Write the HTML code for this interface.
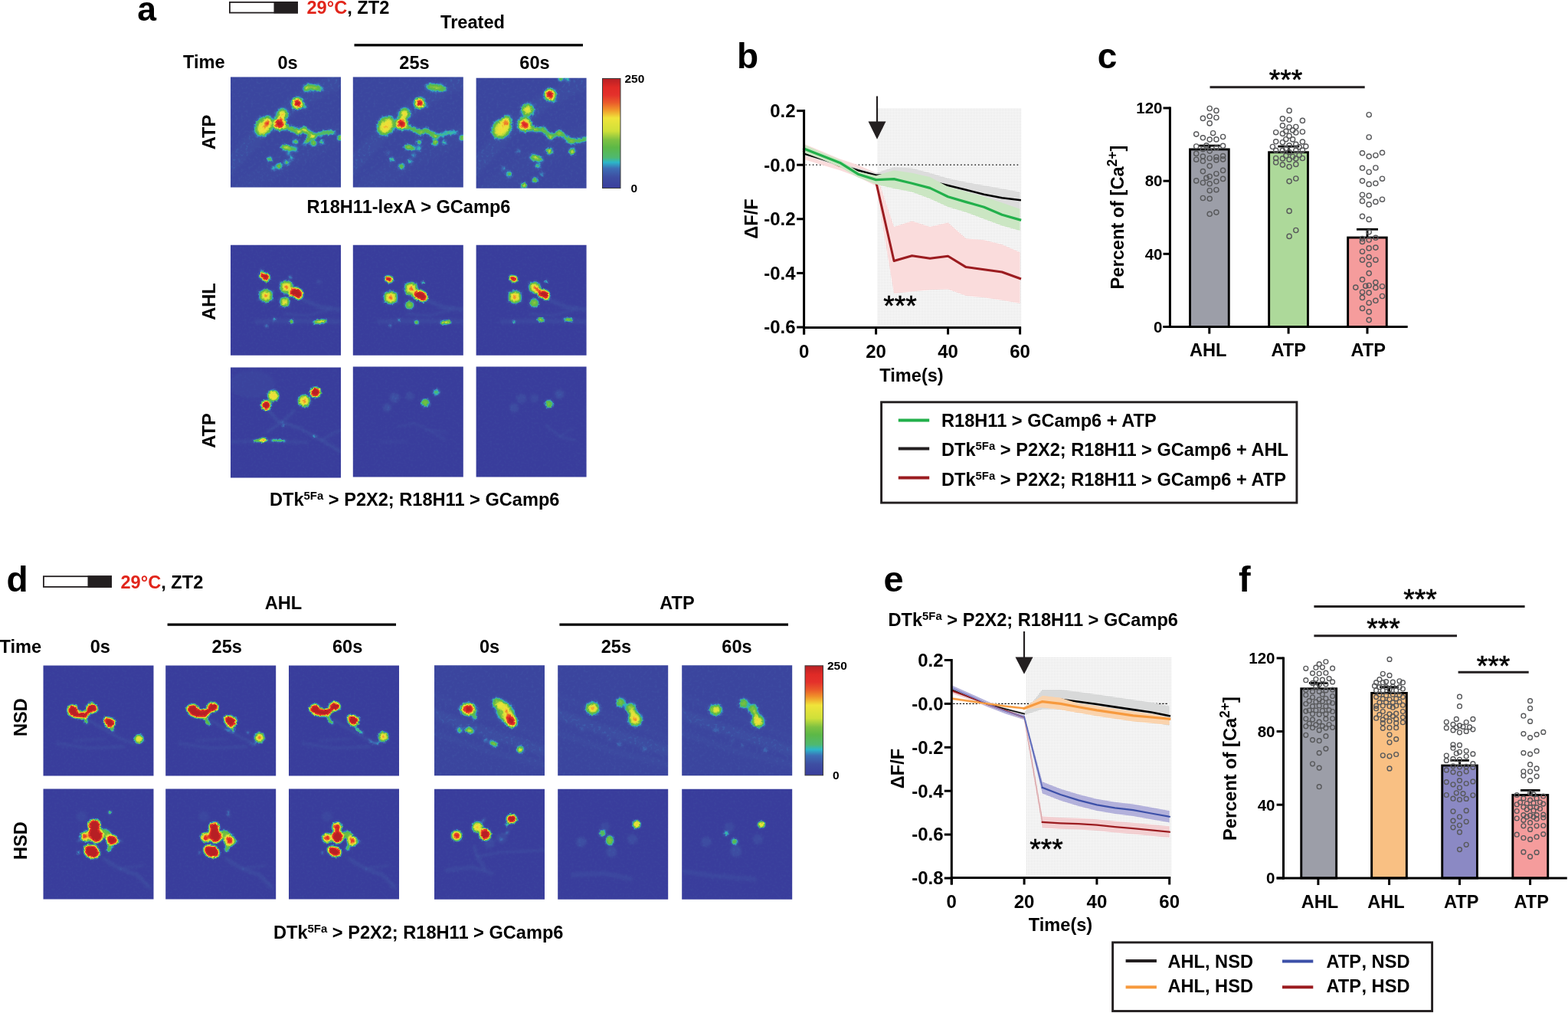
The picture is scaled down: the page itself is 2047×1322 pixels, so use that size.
<!DOCTYPE html>
<html lang="en"><head><meta charset="utf-8"><title>Figure</title>
<style>
html,body{margin:0;padding:0;background:#fff;}
svg{display:block;font-family:"Liberation Sans", Arial, sans-serif;font-weight:bold;}
</style></head><body>
<svg width="2047" height="1322" viewBox="0 0 2047 1322">
<defs>
<filter id="jet" x="-12" y="-12" width="168" height="168" filterUnits="userSpaceOnUse" color-interpolation-filters="sRGB">
<feTurbulence type="fractalNoise" baseFrequency="0.33" numOctaves="2" seed="7" result="n"/>
<feGaussianBlur in="SourceGraphic" stdDeviation="1.4" result="b"/>
<feDisplacementMap in="b" in2="n" scale="3.2" xChannelSelector="R" yChannelSelector="G" result="d"/>
<feGaussianBlur in="d" stdDeviation="0.45" result="d2"/>
<feColorMatrix in="n" type="matrix" values="0 0 0.10 0 -0.05  0 0 0.10 0 -0.05  0 0 0.10 0 -0.05  0 0 0 0 1" result="g"/>
<feComposite in="d2" in2="g" operator="arithmetic" k1="0" k2="1" k3="1" k4="0" result="s"/>
<feComponentTransfer in="s">
<feFuncR type="table" tableValues="0.227 0.231 0.235 0.239 0.243 0.242 0.241 0.239 0.215 0.185 0.218 0.295 0.321 0.335 0.349 0.370 0.416 0.462 0.530 0.631 0.731 0.817 0.844 0.871 0.898 0.925 0.941 0.941 0.941 0.939 0.929 0.920 0.911 0.903 0.894 0.889 0.883 0.868 0.818 0.768 0.718"/>
<feFuncG type="table" tableValues="0.243 0.259 0.275 0.290 0.306 0.345 0.384 0.424 0.535 0.666 0.720 0.725 0.725 0.724 0.722 0.724 0.737 0.749 0.772 0.810 0.848 0.879 0.882 0.886 0.889 0.892 0.853 0.750 0.647 0.547 0.459 0.371 0.307 0.250 0.192 0.182 0.173 0.162 0.150 0.138 0.125"/>
<feFuncB type="table" tableValues="0.612 0.618 0.624 0.629 0.635 0.659 0.682 0.705 0.738 0.774 0.672 0.478 0.403 0.359 0.314 0.277 0.270 0.263 0.255 0.245 0.235 0.227 0.227 0.227 0.227 0.227 0.220 0.200 0.180 0.165 0.165 0.165 0.166 0.167 0.169 0.162 0.155 0.149 0.148 0.146 0.145"/>
</feComponentTransfer>
</filter>
<filter id="jets" x="-12" y="-12" width="168" height="168" filterUnits="userSpaceOnUse" color-interpolation-filters="sRGB">
<feTurbulence type="fractalNoise" baseFrequency="0.30" numOctaves="2" seed="11" result="n"/>
<feGaussianBlur in="SourceGraphic" stdDeviation="1.9" result="b"/>
<feDisplacementMap in="b" in2="n" scale="3.6" xChannelSelector="R" yChannelSelector="G" result="d"/>
<feGaussianBlur in="d" stdDeviation="0.45" result="d2"/>
<feColorMatrix in="n" type="matrix" values="0 0 0.16 0 -0.08  0 0 0.16 0 -0.08  0 0 0.16 0 -0.08  0 0 0 0 1" result="g"/>
<feComposite in="d2" in2="g" operator="arithmetic" k1="0" k2="1" k3="1" k4="0" result="s"/>
<feComponentTransfer in="s">
<feFuncR type="table" tableValues="0.227 0.231 0.235 0.239 0.243 0.242 0.241 0.239 0.215 0.185 0.218 0.295 0.321 0.335 0.349 0.370 0.416 0.462 0.530 0.631 0.731 0.817 0.844 0.871 0.898 0.925 0.941 0.941 0.941 0.939 0.929 0.920 0.911 0.903 0.894 0.889 0.883 0.868 0.818 0.768 0.718"/>
<feFuncG type="table" tableValues="0.243 0.259 0.275 0.290 0.306 0.345 0.384 0.424 0.535 0.666 0.720 0.725 0.725 0.724 0.722 0.724 0.737 0.749 0.772 0.810 0.848 0.879 0.882 0.886 0.889 0.892 0.853 0.750 0.647 0.547 0.459 0.371 0.307 0.250 0.192 0.182 0.173 0.162 0.150 0.138 0.125"/>
<feFuncB type="table" tableValues="0.612 0.618 0.624 0.629 0.635 0.659 0.682 0.705 0.738 0.774 0.672 0.478 0.403 0.359 0.314 0.277 0.270 0.263 0.255 0.245 0.235 0.227 0.227 0.227 0.227 0.227 0.220 0.200 0.180 0.165 0.165 0.165 0.166 0.167 0.169 0.162 0.155 0.149 0.148 0.146 0.145"/>
</feComponentTransfer>
</filter>
<radialGradient id="bg"><stop offset="0" stop-color="#fff" stop-opacity="1"/><stop offset="0.35" stop-color="#fff" stop-opacity="0.85"/><stop offset="1" stop-color="#fff" stop-opacity="0"/></radialGradient>
<radialGradient id="bh"><stop offset="0" stop-color="#fff" stop-opacity="1"/><stop offset="0.6" stop-color="#fff" stop-opacity="1"/><stop offset="1" stop-color="#fff" stop-opacity="0"/></radialGradient>
<linearGradient id="cbar" x1="0" y1="1" x2="0" y2="0">

<stop offset="0.0" stop-color="#3a3e9c"/>
<stop offset="0.1" stop-color="#3e4ea2"/>
<stop offset="0.18" stop-color="#3d6eb5"/>
<stop offset="0.235" stop-color="#2cb7c9"/>
<stop offset="0.28" stop-color="#4fb970"/>
<stop offset="0.37" stop-color="#5cb847"/>
<stop offset="0.44" stop-color="#7dc142"/>
<stop offset="0.52" stop-color="#cfe03a"/>
<stop offset="0.64" stop-color="#f0e43a"/>
<stop offset="0.72" stop-color="#f0902a"/>
<stop offset="0.78" stop-color="#ea5a2a"/>
<stop offset="0.85" stop-color="#e4312b"/>
<stop offset="0.92" stop-color="#e02a26"/>
<stop offset="1.0" stop-color="#b72025"/>
</linearGradient>
<pattern id="dots" width="2" height="2" patternUnits="userSpaceOnUse"><rect width="2" height="2" fill="#fbfbfb"/><rect x="0" y="0" width="1" height="1" fill="#d6d6d6"/></pattern>
</defs>
<rect width="2047" height="1322" fill="#fff"/>

<text x="179.2" y="27" font-size="44.5" text-anchor="start" fill="#000">a</text>
<rect x="299.9" y="2.9" width="88.2" height="13.7" fill="#fff" stroke="#231f20" stroke-width="1.8"/>
<rect x="357.5" y="2" width="31.5" height="15.5" fill="#231f20" stroke="none" stroke-width="0"/>
<text x="400.5" y="18" font-size="23.6" text-anchor="start" fill="#000"><tspan fill="#e1251b">29°C</tspan>, ZT2</text>
<text x="617" y="36.5" font-size="23.6" text-anchor="middle" fill="#000">Treated</text>
<line x1="462.5" y1="58.8" x2="761" y2="58.8" stroke="#000" stroke-width="3.2"/>
<text x="239" y="88.8" font-size="23.6" text-anchor="start" fill="#000">Time</text>
<text x="375.5" y="90" font-size="23.6" text-anchor="middle" fill="#000">0s</text>
<text x="541" y="90" font-size="23.6" text-anchor="middle" fill="#000">25s</text>
<text x="698" y="90" font-size="23.6" text-anchor="middle" fill="#000">60s</text>
<svg x="301" y="100.5" width="144" height="144" viewBox="0 0 144 144" overflow="hidden"><g filter="url(#jets)"><rect x="-12" y="-12" width="168" height="168" fill="rgb(13,13,13)"/><g fill="#fff" stroke="#fff" stroke-linecap="round" stroke-linejoin="round"><polyline points="-10,125 40,72 90,30 150,0" fill="none" stroke-width="20" opacity="0.04"/><polyline points="20,144 70,110 150,70" fill="none" stroke-width="26" opacity="0.02"/><ellipse cx="108" cy="13.6" rx="12" ry="3.4" stroke="none" opacity="0.45" transform="rotate(8 108 13.6)"/><circle cx="98.5" cy="15.5" r="2.8" stroke="none" opacity="0.576"/><ellipse cx="87.3" cy="34.3" rx="7.0" ry="7.4" stroke="none" opacity="0.4" transform="rotate(30 87.3 34.3)"/><ellipse cx="87.3" cy="34.3" rx="5.4" ry="5.8" stroke="none" opacity="1.0" transform="rotate(30 87.3 34.3)"/><polyline points="91,37 99,40" fill="none" stroke-width="2.0" opacity="0.53"/><circle cx="67.6" cy="48.7" r="7.2" stroke="none" opacity="0.4"/><circle cx="67.6" cy="48.7" r="3.6" stroke="none" opacity="0.367"/><circle cx="67.6" cy="48.7" r="1.9" stroke="none" opacity="0.607"/><ellipse cx="63.8" cy="60.8" rx="8.4" ry="8.6" stroke="none" opacity="0.4"/><ellipse cx="63.8" cy="60.8" rx="6.2" ry="6.4" stroke="none" opacity="1.0"/><ellipse cx="43.5" cy="64" rx="10.5" ry="14" stroke="none" opacity="0.4" transform="rotate(35 43.5 64)"/><ellipse cx="43.5" cy="66" rx="5.8" ry="8.6" stroke="none" opacity="0.37" transform="rotate(35 43.5 66)"/><ellipse cx="48.5" cy="59.5" rx="2.8" ry="4.4" stroke="none" opacity="0.85" transform="rotate(25 48.5 59.5)"/><polyline points="66,64 78,67 88.8,71.4 96.4,68.4 107,76.7" fill="none" stroke-width="5.3" opacity="0.488"/><polyline points="107,76.7 115,75 123.6,72.2 135,72.2" fill="none" stroke-width="2.7" opacity="0.583"/><circle cx="88.8" cy="72.5" r="3.0" stroke="none" opacity="0.384"/><circle cx="97" cy="69" r="2.8" stroke="none" opacity="0.32"/><circle cx="108" cy="77.5" r="3.0" stroke="none" opacity="0.384"/><polyline points="107,77 100,83 96,88" fill="none" stroke-width="2.5" opacity="0.477"/><circle cx="143" cy="79.4" r="2.4" stroke="none" opacity="0.896"/><ellipse cx="71.4" cy="91.8" rx="5" ry="3.0" stroke="none" opacity="0.62" transform="rotate(15 71.4 91.8)"/><circle cx="78" cy="93" r="2.6" stroke="none" opacity="0.64"/><circle cx="85" cy="84.3" r="2.4" stroke="none" opacity="0.704"/><circle cx="108.5" cy="86.5" r="2.7" stroke="none" opacity="0.768"/><circle cx="119" cy="85" r="2.0" stroke="none" opacity="0.704"/><circle cx="51" cy="107.3" r="2.2" stroke="none" opacity="0.768"/><circle cx="63.5" cy="116.3" r="2.6" stroke="none" opacity="0.794"/><circle cx="56" cy="119" r="1.8" stroke="none" opacity="0.704"/><circle cx="73.2" cy="111.8" r="2.2" stroke="none" opacity="0.704"/><circle cx="79.7" cy="106.2" r="1.8" stroke="none" opacity="0.64"/><circle cx="84.3" cy="94.1" r="2.2" stroke="none" opacity="0.64"/><circle cx="101" cy="82" r="2.2" stroke="none" opacity="0.64"/><circle cx="76" cy="100" r="1.7" stroke="none" opacity="0.576"/></g></g></svg>
<svg x="460.8" y="100.5" width="144" height="144" viewBox="0 0 144 144" overflow="hidden"><g filter="url(#jets)"><rect x="-12" y="-12" width="168" height="168" fill="rgb(13,13,13)"/><g fill="#fff" stroke="#fff" stroke-linecap="round" stroke-linejoin="round"><polyline points="-10,125 40,72 90,30 150,0" fill="none" stroke-width="20" opacity="0.04"/><polyline points="20,144 70,110 150,70" fill="none" stroke-width="26" opacity="0.02"/><ellipse cx="108.2" cy="13.6" rx="13.5" ry="4.2" stroke="none" opacity="0.42" transform="rotate(8 108.2 13.6)"/><ellipse cx="87" cy="34" rx="6.4" ry="7.0" stroke="none" opacity="0.4" transform="rotate(30 87 34)"/><ellipse cx="87" cy="34" rx="4.8" ry="5.4" stroke="none" opacity="1.0" transform="rotate(30 87 34)"/><polyline points="91,37 98,39" fill="none" stroke-width="1.8" opacity="0.424"/><circle cx="67.3" cy="48" r="7.2" stroke="none" opacity="0.4"/><circle cx="67.3" cy="48" r="3.4" stroke="none" opacity="0.426"/><circle cx="67.3" cy="48" r="1.6" stroke="none" opacity="0.384"/><ellipse cx="63.2" cy="60.8" rx="7.8" ry="8.0" stroke="none" opacity="0.4"/><ellipse cx="63.2" cy="60.8" rx="5.6" ry="5.8" stroke="none" opacity="1.0"/><ellipse cx="43" cy="63.5" rx="10.5" ry="13" stroke="none" opacity="0.4" transform="rotate(35 43 63.5)"/><ellipse cx="43.5" cy="64" rx="6" ry="8.5" stroke="none" opacity="0.33" transform="rotate(35 43.5 64)"/><circle cx="47.7" cy="58.5" r="2.0" stroke="none" opacity="0.384"/><circle cx="40.8" cy="67" r="2.2" stroke="none" opacity="0.256"/><polyline points="66,64 78,67.5 88,72.5 95.5,69.5 107.5,76.7" fill="none" stroke-width="4.7" opacity="0.466"/><polyline points="107.5,76.7 115,76 122.6,73 135,72" fill="none" stroke-width="2.5" opacity="0.477"/><circle cx="88" cy="73" r="2.8" stroke="none" opacity="0.256"/><circle cx="108" cy="77.5" r="2.6" stroke="none" opacity="0.32"/><circle cx="142.5" cy="79.4" r="2.4" stroke="none" opacity="0.896"/><ellipse cx="71.9" cy="91.4" rx="4.4" ry="2.8" stroke="none" opacity="0.6" transform="rotate(15 71.9 91.4)"/><circle cx="78.5" cy="92.5" r="2.4" stroke="none" opacity="0.576"/><circle cx="86.2" cy="85" r="2.4" stroke="none" opacity="0.64"/><circle cx="107.4" cy="85.8" r="2.7" stroke="none" opacity="0.768"/><circle cx="119.2" cy="85.5" r="1.9" stroke="none" opacity="0.64"/><circle cx="50.7" cy="107.7" r="2.0" stroke="none" opacity="0.704"/><circle cx="63.5" cy="116.8" r="2.5" stroke="none" opacity="0.768"/><circle cx="74.1" cy="110" r="2.0" stroke="none" opacity="0.64"/><circle cx="86.2" cy="93.3" r="2.0" stroke="none" opacity="0.64"/><circle cx="79" cy="102" r="1.7" stroke="none" opacity="0.576"/><circle cx="46" cy="99" r="1.5" stroke="none" opacity="0.512"/></g></g></svg>
<svg x="621.6" y="101.7" width="144" height="144" viewBox="0 0 144 144" overflow="hidden"><g filter="url(#jets)"><rect x="-12" y="-12" width="168" height="168" fill="rgb(13,13,13)"/><g fill="#fff" stroke="#fff" stroke-linecap="round" stroke-linejoin="round"><polyline points="-10,125 40,72 90,30 150,0" fill="none" stroke-width="20" opacity="0.04"/><polyline points="20,144 70,110 150,70" fill="none" stroke-width="26" opacity="0.02"/><circle cx="110.5" cy="0.8" r="2.4" stroke="none" opacity="0.768"/><circle cx="119" cy="1.6" r="2.0" stroke="none" opacity="0.64"/><ellipse cx="96.3" cy="21.5" rx="7.2" ry="7.4" stroke="none" opacity="0.4" transform="rotate(20 96.3 21.5)"/><ellipse cx="96.3" cy="21.5" rx="5.4" ry="5.6" stroke="none" opacity="1.0" transform="rotate(20 96.3 21.5)"/><ellipse cx="99.5" cy="27" rx="4.5" ry="3" stroke="none" opacity="0.4" transform="rotate(40 99.5 27)"/><circle cx="66.9" cy="41.5" r="8.2" stroke="none" opacity="0.4"/><circle cx="66.9" cy="41.5" r="3.6" stroke="none" opacity="0.333"/><ellipse cx="63.3" cy="60.9" rx="9.0" ry="9.5" stroke="none" opacity="0.4"/><ellipse cx="63.3" cy="60.9" rx="6.6" ry="6.9" stroke="none" opacity="0.367"/><ellipse cx="63.3" cy="60.9" rx="4.6" ry="4.8" stroke="none" opacity="0.632"/><ellipse cx="63.3" cy="60.9" rx="3.2" ry="3.4" stroke="none" opacity="0.914"/><polyline points="68,65 78,67" fill="none" stroke-width="5.0" opacity="0.424"/><ellipse cx="33" cy="66" rx="11.5" ry="14" stroke="none" opacity="0.4" transform="rotate(40 33 66)"/><ellipse cx="40" cy="55.5" rx="5.5" ry="7" stroke="none" opacity="0.4" transform="rotate(20 40 55.5)"/><ellipse cx="33.5" cy="66" rx="7" ry="9.5" stroke="none" opacity="0.33" transform="rotate(40 33.5 66)"/><ellipse cx="40" cy="57" rx="2.5" ry="4" stroke="none" opacity="0.33" transform="rotate(20 40 57)"/><polyline points="76,67 88,67.8 96.6,76.8 108.7,71.4 123.2,82.3 134,82.3 143.8,79.3" fill="none" stroke-width="3.5" opacity="0.477"/><circle cx="97" cy="77.5" r="3.4" stroke="none" opacity="0.358"/><circle cx="108.5" cy="71.8" r="3.2" stroke="none" opacity="0.307"/><circle cx="124" cy="82.5" r="3.2" stroke="none" opacity="0.307"/><circle cx="88" cy="67" r="3.0" stroke="none" opacity="0.307"/><circle cx="95.6" cy="95.6" r="3.0" stroke="none" opacity="0.768"/><circle cx="125.4" cy="96" r="3.0" stroke="none" opacity="0.768"/><ellipse cx="76" cy="104" rx="5.5" ry="3.0" stroke="none" opacity="0.6" transform="rotate(15 76 104)"/><circle cx="83.3" cy="105.9" r="2.6" stroke="none" opacity="0.64"/><circle cx="80.6" cy="114.6" r="2.2" stroke="none" opacity="0.64"/><circle cx="43" cy="125.8" r="2.4" stroke="none" opacity="0.768"/><circle cx="35.8" cy="118" r="1.7" stroke="none" opacity="0.576"/><circle cx="76.6" cy="133" r="2.5" stroke="none" opacity="0.768"/><circle cx="62.4" cy="140.4" r="3.0" stroke="none" opacity="0.794"/><circle cx="85.7" cy="125.2" r="1.8" stroke="none" opacity="0.576"/><circle cx="54.8" cy="95.6" r="1.7" stroke="none" opacity="0.576"/></g></g></svg>
<rect x="786.5" y="102.5" width="23.5" height="143" fill="url(#cbar)" stroke="#3a3a3a" stroke-width="1"/>
<text x="815.5" y="107.5" font-size="15.5" text-anchor="start" fill="#000">250</text>
<text x="823.5" y="250.5" font-size="15.5" text-anchor="start" fill="#000">0</text>
<text x="281" y="172.5" font-size="23.6" text-anchor="middle" fill="#000" transform="rotate(-90 281 172.5)">ATP</text>
<text x="533.5" y="277.5" font-size="23.6" text-anchor="middle" fill="#000">R18H11-lexA &gt; GCamp6</text>
<svg x="301" y="319.8" width="144" height="144" viewBox="0 0 144 144" overflow="hidden"><g filter="url(#jet)"><rect x="-12" y="-12" width="168" height="168" fill="rgb(0,0,0)"/><g fill="#fff" stroke="#fff" stroke-linecap="round" stroke-linejoin="round"><polyline points="96,72 118,81 142,84" fill="none" stroke-width="5" opacity="0.07"/><polyline points="34,100 80,99 142,100" fill="none" stroke-width="6" opacity="0.06"/><polyline points="70,90 100,92 130,84" fill="none" stroke-width="3" opacity="0.06"/><polygon points="40.6,37.4 48.5,38.5 50,42.7 46.8,46.4 41.6,43.2 38.8,40.4" stroke-width="3.6" opacity="0.4"/><polygon points="40.6,37.4 48.5,38.5 50,42.7 46.8,46.4 41.6,43.2 38.8,40.4" stroke-width="1.6" opacity="1.0"/><polyline points="40,32 41.5,38" fill="none" stroke-width="1.6" opacity="0.55"/><circle cx="72.9" cy="54.8" r="9.0" stroke="none" opacity="0.4"/><circle cx="72.9" cy="54.8" r="4.6" stroke="none" opacity="0.367"/><circle cx="72.9" cy="54.8" r="1.8" stroke="none" opacity="0.421"/><polyline points="64,47 82,62" fill="none" stroke-width="1.2" opacity="0.3"/><polyline points="66,60 80,49" fill="none" stroke-width="1.2" opacity="0.3"/><polygon points="79.7,57.8 85.8,56.6 91.1,59.3 93.3,63.8 91.8,68.4 88,69.9 85.8,67.6 82,66.1 77.5,64.6" stroke-width="3.8" opacity="0.4"/><polygon points="79.7,57.8 85.8,56.6 91.1,59.3 93.3,63.8 91.8,68.4 88,69.9 85.8,67.6 82,66.1 77.5,64.6" stroke-width="1.4" opacity="1.0"/><circle cx="46.1" cy="66.1" r="8.8" stroke="none" opacity="0.4"/><circle cx="46.1" cy="66.1" r="4.2" stroke="none" opacity="0.367"/><polyline points="36,60 56,72" fill="none" stroke-width="1.4" opacity="0.3"/><polyline points="36,72 56,60" fill="none" stroke-width="1.4" opacity="0.3"/><polyline points="46.1,56 46.1,76.5" fill="none" stroke-width="1.4" opacity="0.3"/><circle cx="70.7" cy="74.4" r="6.6" stroke="none" opacity="0.4"/><circle cx="70.7" cy="74.4" r="2.6" stroke="none" opacity="0.3"/><polyline points="64,68 77,81" fill="none" stroke-width="1.2" opacity="0.3"/><polyline points="64,81 77,68" fill="none" stroke-width="1.2" opacity="0.3"/><ellipse cx="117.5" cy="99.8" rx="8" ry="2.4" stroke="none" opacity="0.55" transform="rotate(-8 117.5 99.8)"/><circle cx="120" cy="100.5" r="2.2" stroke="none" opacity="0.3"/><circle cx="110" cy="101" r="2.2" stroke="none" opacity="0.4"/><circle cx="79.3" cy="100.2" r="2.4" stroke="none" opacity="0.55"/><circle cx="57.3" cy="96.8" r="1.7" stroke="none" opacity="0.5"/><circle cx="46.7" cy="105.4" r="1.5" stroke="none" opacity="0.5"/><circle cx="77.9" cy="42.2" r="1.6" stroke="none" opacity="0.5"/><circle cx="115.3" cy="47.7" r="2.5" stroke="none" opacity="0.12"/></g></g></svg>
<svg x="460.8" y="319.8" width="144" height="144" viewBox="0 0 144 144" overflow="hidden"><g filter="url(#jet)"><rect x="-12" y="-12" width="168" height="168" fill="rgb(0,0,0)"/><g fill="#fff" stroke="#fff" stroke-linecap="round" stroke-linejoin="round"><polyline points="96,72 118,81 142,84" fill="none" stroke-width="5" opacity="0.07"/><polyline points="34,100 80,99 142,100" fill="none" stroke-width="6" opacity="0.06"/><polyline points="70,90 100,92 130,84" fill="none" stroke-width="3" opacity="0.06"/><polygon points="43.6,41.6 49.6,42.2 51,46 48,48 44,46.2 42.6,43.8" stroke-width="3.2" opacity="0.4"/><polygon points="43.6,41.6 49.6,42.2 51,46 48,48 44,46.2 42.6,43.8" stroke-width="1.2" opacity="1.0"/><circle cx="75.9" cy="57" r="9.0" stroke="none" opacity="0.4"/><circle cx="75.9" cy="57" r="5.0" stroke="none" opacity="0.367"/><circle cx="75.9" cy="57" r="2.6" stroke="none" opacity="0.316"/><polyline points="67,49 85,65" fill="none" stroke-width="1.2" opacity="0.3"/><polyline points="68,64 84,50" fill="none" stroke-width="1.2" opacity="0.3"/><polygon points="81.7,61.6 87.7,60.1 93.8,63.1 96.1,67.6 93.8,72.2 89.3,72.2 86.2,69.6 81.7,69.1 79.9,66.1" stroke-width="3.8" opacity="0.4"/><polygon points="81.7,61.6 87.7,60.1 93.8,63.1 96.1,67.6 93.8,72.2 89.3,72.2 86.2,69.6 81.7,69.1 79.9,66.1" stroke-width="1.4" opacity="1.0"/><circle cx="49.2" cy="68.4" r="9.0" stroke="none" opacity="0.4"/><circle cx="49.2" cy="68.4" r="5.2" stroke="none" opacity="0.367"/><circle cx="49.2" cy="68.4" r="2.2" stroke="none" opacity="0.263"/><polyline points="39,62 59,75" fill="none" stroke-width="1.4" opacity="0.3"/><polyline points="39,75 59,62" fill="none" stroke-width="1.4" opacity="0.3"/><circle cx="73.8" cy="78.2" r="5.8" stroke="none" opacity="0.38"/><circle cx="73.8" cy="78.2" r="2.4" stroke="none" opacity="0.129"/><circle cx="91.5" cy="49.2" r="1.6" stroke="none" opacity="0.7"/><ellipse cx="121" cy="100.9" rx="7.5" ry="2.4" stroke="none" opacity="0.55" transform="rotate(-5 121 100.9)"/><circle cx="82.9" cy="101" r="2.4" stroke="none" opacity="0.55"/><circle cx="60.2" cy="97.6" r="1.4" stroke="none" opacity="0.5"/><circle cx="48.7" cy="105" r="1.4" stroke="none" opacity="0.5"/></g></g></svg>
<svg x="621.6" y="319.8" width="144" height="144" viewBox="0 0 144 144" overflow="hidden"><g filter="url(#jet)"><rect x="-12" y="-12" width="168" height="168" fill="rgb(0,0,0)"/><g fill="#fff" stroke="#fff" stroke-linecap="round" stroke-linejoin="round"><polyline points="96,72 118,81 142,84" fill="none" stroke-width="5" opacity="0.07"/><polyline points="34,100 80,99 142,100" fill="none" stroke-width="6" opacity="0.06"/><polyline points="70,90 100,92 130,84" fill="none" stroke-width="3" opacity="0.06"/><polygon points="45.4,40.8 51.6,42 52.8,45.6 50,47.6 46,45.6 44.4,43" stroke-width="3.2" opacity="0.4"/><polygon points="45.4,40.8 51.6,42 52.8,45.6 50,47.6 46,45.6 44.4,43" stroke-width="1.2" opacity="1.0"/><circle cx="76.5" cy="55.5" r="8.0" stroke="none" opacity="0.4"/><circle cx="76.5" cy="55.5" r="4.4" stroke="none" opacity="0.367"/><circle cx="76.5" cy="55.5" r="1.6" stroke="none" opacity="0.421"/><ellipse cx="82" cy="60" rx="6" ry="4" stroke="none" opacity="0.4" transform="rotate(35 82 60)"/><ellipse cx="81" cy="59" rx="3.2" ry="1.8" stroke="none" opacity="0.35" transform="rotate(35 81 59)"/><polyline points="68,48 84,62" fill="none" stroke-width="1.2" opacity="0.3"/><polygon points="83.3,61.5 88.1,59.7 92.9,61.5 94.8,65.1 92.9,69.9 89.9,69.9 86.9,66.9 82.6,66.9 82,63.9" stroke-width="3.8" opacity="0.4"/><polygon points="83.3,61.5 88.1,59.7 92.9,61.5 94.8,65.1 92.9,69.9 89.9,69.9 86.9,66.9 82.6,66.9 82,63.9" stroke-width="1.4" opacity="1.0"/><circle cx="50.6" cy="67.8" r="8.8" stroke="none" opacity="0.4"/><circle cx="50.6" cy="67.8" r="4.8" stroke="none" opacity="0.367"/><circle cx="50.6" cy="67.8" r="1.4" stroke="none" opacity="0.211"/><polyline points="41,61 60,74" fill="none" stroke-width="1.4" opacity="0.3"/><polyline points="41,74 60,61" fill="none" stroke-width="1.4" opacity="0.3"/><circle cx="75.8" cy="75.4" r="6.0" stroke="none" opacity="0.38"/><circle cx="75.8" cy="75.4" r="2.6" stroke="none" opacity="0.129"/><circle cx="91.4" cy="47.8" r="1.5" stroke="none" opacity="0.65"/><ellipse cx="84.5" cy="97.5" rx="4.6" ry="2.0" stroke="none" opacity="0.55" transform="rotate(10 84.5 97.5)"/><ellipse cx="120.2" cy="97.2" rx="6.4" ry="2.0" stroke="none" opacity="0.5" transform="rotate(5 120.2 97.2)"/><circle cx="49.4" cy="100.2" r="1.6" stroke="none" opacity="0.55"/></g></g></svg>
<svg x="301" y="479.5" width="144" height="144" viewBox="0 0 144 144" overflow="hidden"><g filter="url(#jet)"><rect x="-12" y="-12" width="168" height="168" fill="rgb(0,0,0)"/><g fill="#fff" stroke="#fff" stroke-linecap="round" stroke-linejoin="round"><ellipse cx="28" cy="22" rx="30" ry="18" stroke="none" opacity="0.03"/><polyline points="50,57 62,70 89,79 119,95 144,110" fill="none" stroke-width="3.5" opacity="0.09"/><polyline points="83,57 66,72 48,84" fill="none" stroke-width="3.5" opacity="0.08"/><polyline points="0,97 50,96 100,98" fill="none" stroke-width="4" opacity="0.06"/><polyline points="119,95 135,85 144,82" fill="none" stroke-width="3" opacity="0.07"/><circle cx="55.8" cy="36.9" r="7.4" stroke="none" opacity="0.5"/><circle cx="55.8" cy="36.9" r="5.2" stroke="none" opacity="0.28"/><circle cx="46.4" cy="49.3" r="6.6" stroke="none" opacity="0.4"/><circle cx="46.4" cy="49.3" r="5.8" stroke="none" opacity="1.0"/><circle cx="110.7" cy="32.4" r="7.0" stroke="none" opacity="0.4"/><circle cx="110.7" cy="32.4" r="6.2" stroke="none" opacity="1.0"/><circle cx="96.1" cy="43.7" r="8.4" stroke="none" opacity="0.4"/><circle cx="96.1" cy="43.7" r="5.6" stroke="none" opacity="0.367"/><circle cx="96.1" cy="43.7" r="2.6" stroke="none" opacity="0.316"/><ellipse cx="41.9" cy="94.7" rx="4.4" ry="2.6" stroke="none" opacity="0.66" transform="rotate(-10 41.9 94.7)"/><polyline points="31.5,96 39,95 47,94.5" fill="none" stroke-width="2.4" opacity="0.55"/><polyline points="54,95.3 62,95 70.6,96" fill="none" stroke-width="2.0" opacity="0.55"/><circle cx="69.1" cy="75.8" r="1.4" stroke="none" opacity="0.45"/><circle cx="109.2" cy="89.4" r="1.5" stroke="none" opacity="0.5"/></g></g></svg>
<svg x="460.8" y="478.5" width="144" height="144" viewBox="0 0 144 144" overflow="hidden"><g filter="url(#jet)"><rect x="-12" y="-12" width="168" height="168" fill="rgb(0,0,0)"/><g fill="#fff" stroke="#fff" stroke-linecap="round" stroke-linejoin="round"><polyline points="60,78 80,74 97,82 120,95" fill="none" stroke-width="3" opacity="0.05"/><polyline points="97,82 122,86" fill="none" stroke-width="3" opacity="0.04"/><polyline points="36,98 70,98" fill="none" stroke-width="3" opacity="0.04"/><circle cx="94.6" cy="47" r="5.6" stroke="none" opacity="0.36"/><circle cx="94.6" cy="47" r="3.2" stroke="none" opacity="0.094"/><circle cx="108.9" cy="33.3" r="4.6" stroke="none" opacity="0.28"/><circle cx="54.2" cy="40.5" r="6.5" stroke="none" opacity="0.1"/><circle cx="44.6" cy="53.4" r="5.5" stroke="none" opacity="0.1"/><circle cx="74.1" cy="38.3" r="5.5" stroke="none" opacity="0.08"/></g></g></svg>
<svg x="621.6" y="478.5" width="144" height="144" viewBox="0 0 144 144" overflow="hidden"><g filter="url(#jet)"><rect x="-12" y="-12" width="168" height="168" fill="rgb(0,0,0)"/><g fill="#fff" stroke="#fff" stroke-linecap="round" stroke-linejoin="round"><polyline points="92,77 109,91 128,96" fill="none" stroke-width="3" opacity="0.06"/><polyline points="109,91 126,81" fill="none" stroke-width="2.5" opacity="0.05"/><circle cx="95.1" cy="48.6" r="5.4" stroke="none" opacity="0.36"/><circle cx="95.1" cy="48.6" r="3" stroke="none" opacity="0.094"/><circle cx="108.7" cy="35.9" r="6" stroke="none" opacity="0.1"/><circle cx="59" cy="41.4" r="6.5" stroke="none" opacity="0.08"/><circle cx="49.4" cy="54.1" r="6" stroke="none" opacity="0.09"/><circle cx="76" cy="41.4" r="5.5" stroke="none" opacity="0.07"/></g></g></svg>
<text x="281" y="393.5" font-size="23.6" text-anchor="middle" fill="#000" transform="rotate(-90 281 393.5)">AHL</text>
<text x="281" y="562" font-size="23.6" text-anchor="middle" fill="#000" transform="rotate(-90 281 562)">ATP</text>
<text x="352" y="660" font-size="23.6" text-anchor="start" fill="#000">DTk<tspan font-size="14.9" dy="-8.0">5Fa</tspan><tspan dy="8.0"> &gt; P2X2; R18H11 &gt; GCamp6</tspan></text>
<text x="8.5" y="772" font-size="46" text-anchor="start" fill="#000">d</text>
<rect x="56.9" y="752.1999999999999" width="88.2" height="13.7" fill="#fff" stroke="#231f20" stroke-width="1.8"/>
<rect x="114.5" y="751.3" width="31.5" height="15.5" fill="#231f20" stroke="none" stroke-width="0"/>
<text x="157.5" y="768" font-size="23.6" text-anchor="start" fill="#000"><tspan fill="#e1251b">29°C</tspan>, ZT2</text>
<text x="370" y="795.3" font-size="23.6" text-anchor="middle" fill="#000">AHL</text>
<line x1="218.6" y1="815.2" x2="517" y2="815.2" stroke="#000" stroke-width="3.2"/>
<text x="884" y="795.3" font-size="23.6" text-anchor="middle" fill="#000">ATP</text>
<line x1="730.4" y1="815.2" x2="1029" y2="815.2" stroke="#000" stroke-width="3.2"/>
<text x="-0.5" y="851.6" font-size="23.6" text-anchor="start" fill="#000">Time</text>
<text x="130.8" y="851.7" font-size="23.6" text-anchor="middle" fill="#000">0s</text>
<text x="296.3" y="851.7" font-size="23.6" text-anchor="middle" fill="#000">25s</text>
<text x="453.6" y="851.7" font-size="23.6" text-anchor="middle" fill="#000">60s</text>
<text x="639" y="851.7" font-size="23.6" text-anchor="middle" fill="#000">0s</text>
<text x="804.4" y="851.7" font-size="23.6" text-anchor="middle" fill="#000">25s</text>
<text x="962" y="851.7" font-size="23.6" text-anchor="middle" fill="#000">60s</text>
<svg x="56.5" y="868.6" width="144" height="144" viewBox="0 0 144 144" overflow="hidden"><g filter="url(#jet)"><rect x="-12" y="-12" width="168" height="168" fill="rgb(0,0,0)"/><g fill="#fff" stroke="#fff" stroke-linecap="round" stroke-linejoin="round"><polyline points="60,72 100,95 120,102" fill="none" stroke-width="4" opacity="0.07"/><polyline points="18,102 60,108 105,106" fill="none" stroke-width="4" opacity="0.06"/><polyline points="40,98 80,96" fill="none" stroke-width="3" opacity="0.05"/><polygon points="33.3,55.7 35.6,53.4 40.8,52.6 43.1,55.7 43.9,59.5 46.9,61.7 56,61.7 57.5,57.9 58.2,53.4 61.3,51.9 67.3,52.2 69.6,55.7 68.8,58.7 64.3,60.2 59,61.7 56.7,66.3 52.2,67.3 43.1,67 37.1,64.7 33.3,61" stroke-width="3.6" opacity="0.4"/><polygon points="33.3,55.7 35.6,53.4 40.8,52.6 43.1,55.7 43.9,59.5 46.9,61.7 56,61.7 57.5,57.9 58.2,53.4 61.3,51.9 67.3,52.2 69.6,55.7 68.8,58.7 64.3,60.2 59,61.7 56.7,66.3 52.2,67.3 43.1,67 37.1,64.7 33.3,61" stroke-width="2.0" opacity="1.0"/><polyline points="54,67 56.5,75" fill="none" stroke-width="2.6" opacity="0.55"/><circle cx="63" cy="49" r="2.5" stroke="none" opacity="0.4"/><polygon points="80.9,69.3 87,69.7 93,73.1 90,78.4 85.5,80.3 83.2,77.6 80.9,73.1" stroke-width="4.0" opacity="0.4"/><polygon points="80.9,69.3 87,69.7 93,73.1 90,78.4 85.5,80.3 83.2,77.6 80.9,73.1" stroke-width="2.0" opacity="1.0"/><polyline points="88.5,80 91,85" fill="none" stroke-width="2.4" opacity="0.55"/><circle cx="124.8" cy="95.8" r="6.2" stroke="none" opacity="0.45"/><circle cx="124.8" cy="95.8" r="3.6" stroke="none" opacity="0.345"/></g></g></svg>
<svg x="216.2" y="868.6" width="144" height="144" viewBox="0 0 144 144" overflow="hidden"><g filter="url(#jet)"><rect x="-12" y="-12" width="168" height="168" fill="rgb(0,0,0)"/><g fill="#fff" stroke="#fff" stroke-linecap="round" stroke-linejoin="round"><polyline points="60,72 100,95 120,102" fill="none" stroke-width="4" opacity="0.07"/><polyline points="18,102 60,108 105,106" fill="none" stroke-width="4" opacity="0.06"/><polyline points="40,98 80,96" fill="none" stroke-width="3" opacity="0.05"/><polygon points="28.7,55.7 31.8,52.6 37.8,51.9 40.8,54.9 42.4,57.9 46.9,58.7 54.5,57.9 56,54.2 57.5,50.4 63.5,49.6 67.3,52.6 66.9,56.4 63.5,58.7 57.5,59.8 55.2,64 49.9,67 40.8,66.7 34,64 30,60.2" stroke-width="3.6" opacity="0.4"/><polygon points="28.7,55.7 31.8,52.6 37.8,51.9 40.8,54.9 42.4,57.9 46.9,58.7 54.5,57.9 56,54.2 57.5,50.4 63.5,49.6 67.3,52.6 66.9,56.4 63.5,58.7 57.5,59.8 55.2,64 49.9,67 40.8,66.7 34,64 30,60.2" stroke-width="2.0" opacity="1.0"/><polyline points="52,68 55,75 57.5,77" fill="none" stroke-width="2.8" opacity="0.55"/><polygon points="77.9,67.8 84.7,67.3 91.5,71.6 89.3,76.9 84.7,79.9 80.9,76.1 78.7,72.3" stroke-width="4.4" opacity="0.4"/><polygon points="77.9,67.8 84.7,67.3 91.5,71.6 89.3,76.9 84.7,79.9 80.9,76.1 78.7,72.3" stroke-width="2.0" opacity="1.0"/><polyline points="86,80 88.5,85" fill="none" stroke-width="3.0" opacity="0.55"/><polyline points="78,83 84,86" fill="none" stroke-width="1.6" opacity="0.4"/><circle cx="122.5" cy="94" r="6.8" stroke="none" opacity="0.45"/><circle cx="122.5" cy="94" r="4.2" stroke="none" opacity="0.418"/><circle cx="122.5" cy="94" r="2.2" stroke="none" opacity="0.312"/><circle cx="107.4" cy="87.4" r="1.6" stroke="none" opacity="0.45"/><polyline points="109,100 114,104 119,101" fill="none" stroke-width="1.2" opacity="0.3"/></g></g></svg>
<svg x="377" y="868.6" width="144" height="144" viewBox="0 0 144 144" overflow="hidden"><g filter="url(#jet)"><rect x="-12" y="-12" width="168" height="168" fill="rgb(0,0,0)"/><g fill="#fff" stroke="#fff" stroke-linecap="round" stroke-linejoin="round"><polyline points="60,72 100,95 120,102" fill="none" stroke-width="4" opacity="0.07"/><polyline points="18,102 60,108 105,106" fill="none" stroke-width="4" opacity="0.06"/><polyline points="40,98 80,96" fill="none" stroke-width="3" opacity="0.05"/><polygon points="28.2,55.9 30.6,52.9 35.5,51.7 38.5,54.1 40.3,57.1 45.1,58.1 52.4,57.1 54.8,53.5 56,49.9 60.9,48.6 65.1,51.1 65.7,54.7 62.7,57.1 56,58.1 53.6,62 50,64.4 41.5,64.4 34.2,62.6 29.4,59.5" stroke-width="3.6" opacity="0.4"/><polygon points="28.2,55.9 30.6,52.9 35.5,51.7 38.5,54.1 40.3,57.1 45.1,58.1 52.4,57.1 54.8,53.5 56,49.9 60.9,48.6 65.1,51.1 65.7,54.7 62.7,57.1 56,58.1 53.6,62 50,64.4 41.5,64.4 34.2,62.6 29.4,59.5" stroke-width="2.0" opacity="1.0"/><polyline points="51,66 53.5,72 57,75.5" fill="none" stroke-width="2.6" opacity="0.55"/><polygon points="78.4,66.8 85.1,66.6 90.5,70.4 88.1,75.3 83.9,77.1 80.2,74.1 78.8,70.4" stroke-width="4.4" opacity="0.4"/><polygon points="78.4,66.8 85.1,66.6 90.5,70.4 88.1,75.3 83.9,77.1 80.2,74.1 78.8,70.4" stroke-width="2.0" opacity="1.0"/><polyline points="87,80 90,84 96,88" fill="none" stroke-width="2.2" opacity="0.5"/><circle cx="123.5" cy="92.8" r="6.8" stroke="none" opacity="0.45"/><circle cx="123.5" cy="92.8" r="3.8" stroke="none" opacity="0.345"/><circle cx="123.5" cy="92.8" r="1.6" stroke="none" opacity="0.389"/><polyline points="119,99 115,102 109,101 105,97" fill="none" stroke-width="1.4" opacity="0.4"/></g></g></svg>
<svg x="567" y="868.3" width="144" height="144" viewBox="0 0 144 144" overflow="hidden"><g filter="url(#jets)"><rect x="-12" y="-12" width="168" height="168" fill="rgb(11,11,11)"/><g fill="#fff" stroke="#fff" stroke-linecap="round" stroke-linejoin="round"><polyline points="-10,60 60,85 154,115" fill="none" stroke-width="14" opacity="0.05"/><polyline points="-10,85 70,112 154,132" fill="none" stroke-width="8" opacity="0.035"/><polyline points="-10,36 154,98" fill="none" stroke-width="10" opacity="0.02"/><ellipse cx="44.3" cy="57.5" rx="11" ry="8" stroke="none" opacity="0.4" transform="rotate(5 44.3 57.5)"/><ellipse cx="44.3" cy="56.9" rx="6.8" ry="6.4" stroke="none" opacity="1.0"/><circle cx="52.6" cy="67.5" r="2.4" stroke="none" opacity="0.64"/><ellipse cx="83" cy="49.5" rx="8" ry="6.5" stroke="none" opacity="0.4" transform="rotate(30 83 49.5)"/><ellipse cx="92.5" cy="61" rx="10.5" ry="15" stroke="none" opacity="0.4" transform="rotate(-30 92.5 61)"/><ellipse cx="93.5" cy="57.5" rx="3.0" ry="5.5" stroke="none" opacity="0.5" transform="rotate(-15 93.5 57.5)"/><ellipse cx="97" cy="66" rx="6" ry="8" stroke="none" opacity="0.35" transform="rotate(-25 97 66)"/><ellipse cx="100.3" cy="72.6" rx="6.4" ry="7.8" stroke="none" opacity="1.0" transform="rotate(-25 100.3 72.6)"/><circle cx="33" cy="84.9" r="2.4" stroke="none" opacity="0.704"/><ellipse cx="45.8" cy="85.2" rx="5.4" ry="2.2" stroke="none" opacity="0.75" transform="rotate(15 45.8 85.2)"/><ellipse cx="77.5" cy="102.5" rx="5.5" ry="2.0" stroke="none" opacity="0.7" transform="rotate(25 77.5 102.5)"/><circle cx="67" cy="98" r="1.7" stroke="none" opacity="0.576"/><circle cx="112" cy="110.1" r="3.4" stroke="none" opacity="0.768"/></g></g></svg>
<svg x="728.2" y="868.3" width="144" height="144" viewBox="0 0 144 144" overflow="hidden"><g filter="url(#jets)"><rect x="-12" y="-12" width="168" height="168" fill="rgb(11,11,11)"/><g fill="#fff" stroke="#fff" stroke-linecap="round" stroke-linejoin="round"><polyline points="-10,60 60,85 154,115" fill="none" stroke-width="14" opacity="0.05"/><polyline points="-10,85 70,112 154,132" fill="none" stroke-width="8" opacity="0.035"/><polyline points="-10,36 154,98" fill="none" stroke-width="10" opacity="0.02"/><ellipse cx="45.5" cy="56.1" rx="9.0" ry="8.1" stroke="none" opacity="0.4"/><ellipse cx="45.5" cy="56.1" rx="5.4" ry="4.9" stroke="none" opacity="0.367"/><ellipse cx="45.5" cy="56.1" rx="2.6" ry="2.3" stroke="none" opacity="0.368"/><circle cx="82.1" cy="48.6" r="5.8" stroke="none" opacity="0.4"/><circle cx="95" cy="55.7" r="6.6" stroke="none" opacity="0.42"/><ellipse cx="98" cy="62" rx="4" ry="5" stroke="none" opacity="0.4"/><circle cx="101" cy="70.3" r="9.0" stroke="none" opacity="0.4"/><circle cx="101" cy="70.3" r="5.6" stroke="none" opacity="0.367"/><circle cx="101" cy="70.3" r="2.8" stroke="none" opacity="0.368"/><circle cx="31.9" cy="84" r="1.3" stroke="none" opacity="0.4"/><circle cx="80.3" cy="102.9" r="1.6" stroke="none" opacity="0.5"/><circle cx="113.2" cy="109.7" r="1.6" stroke="none" opacity="0.5"/><circle cx="67.8" cy="97.3" r="1.2" stroke="none" opacity="0.4"/></g></g></svg>
<svg x="890.2" y="868.3" width="144" height="144" viewBox="0 0 144 144" overflow="hidden"><g filter="url(#jets)"><rect x="-12" y="-12" width="168" height="168" fill="rgb(11,11,11)"/><g fill="#fff" stroke="#fff" stroke-linecap="round" stroke-linejoin="round"><polyline points="-10,60 60,85 154,115" fill="none" stroke-width="14" opacity="0.05"/><polyline points="-10,85 70,112 154,132" fill="none" stroke-width="8" opacity="0.035"/><polyline points="-10,36 154,98" fill="none" stroke-width="10" opacity="0.02"/><ellipse cx="44.2" cy="58.1" rx="8.4" ry="7.1" stroke="none" opacity="0.4"/><ellipse cx="44.2" cy="58.1" rx="4.0" ry="3.4" stroke="none" opacity="0.367"/><circle cx="80.8" cy="49.6" r="6.0" stroke="none" opacity="0.4"/><circle cx="92.5" cy="57" r="6.2" stroke="none" opacity="0.4"/><ellipse cx="96.5" cy="64" rx="3.5" ry="4.5" stroke="none" opacity="0.4"/><circle cx="99.3" cy="73.1" r="8.4" stroke="none" opacity="0.4"/><circle cx="99.3" cy="73.1" r="5.0" stroke="none" opacity="0.367"/><circle cx="43.7" cy="85.2" r="1.4" stroke="none" opacity="0.45"/><circle cx="108.7" cy="111.3" r="1.7" stroke="none" opacity="0.5"/><circle cx="79" cy="104.9" r="1.4" stroke="none" opacity="0.4"/><circle cx="65.7" cy="98.9" r="1.3" stroke="none" opacity="0.4"/></g></g></svg>
<svg x="56.5" y="1029.6" width="144" height="144" viewBox="0 0 144 144" overflow="hidden"><g filter="url(#jet)"><rect x="-12" y="-12" width="168" height="168" fill="rgb(0,0,0)"/><g fill="#fff" stroke="#fff" stroke-linecap="round" stroke-linejoin="round"><polyline points="80,92 100,104 122,112 138,128" fill="none" stroke-width="5" opacity="0.07"/><polyline points="100,104 130,100" fill="none" stroke-width="3" opacity="0.05"/><circle cx="50" cy="36" r="7" stroke="none" opacity="0.05"/><ellipse cx="56" cy="62" rx="8" ry="7" stroke="none" opacity="0.5"/><ellipse cx="80" cy="58" rx="9" ry="6" stroke="none" opacity="0.4" transform="rotate(20 80 58)"/><ellipse cx="86" cy="78" rx="3" ry="5" stroke="none" opacity="0.4" transform="rotate(20 86 78)"/><polygon points="59.8,45.7 62.8,41.9 68.8,41.1 72.6,44.2 73.1,50.2 71.9,54.8 75.6,57.8 76.4,63.8 73.4,67.6 68.1,69.1 64.3,66.1 60.5,61.6 60.1,56.3 61.3,51.7" stroke-width="3.6" opacity="0.4"/><polygon points="59.8,45.7 62.8,41.9 68.8,41.1 72.6,44.2 73.1,50.2 71.9,54.8 75.6,57.8 76.4,63.8 73.4,67.6 68.1,69.1 64.3,66.1 60.5,61.6 60.1,56.3 61.3,51.7" stroke-width="2.0" opacity="1.0"/><polygon points="84,63.8 87,61.6 93,62.3 96.1,66.1 94.6,69.9 90,72.2 86.2,71.4 84.3,68.4" stroke-width="4.0" opacity="0.4"/><polygon points="84,63.8 87,61.6 93,62.3 96.1,66.1 94.6,69.9 90,72.2 86.2,71.4 84.3,68.4" stroke-width="2.0" opacity="1.0"/><polygon points="54.9,76.7 58.2,74.7 68.1,75.2 70.3,79 72.6,84.3 69.6,88 64.3,89.6 59,87.3 55.2,83.5" stroke-width="3.6" opacity="0.4"/><polygon points="54.9,76.7 58.2,74.7 68.1,75.2 70.3,79 72.6,84.3 69.6,88 64.3,89.6 59,87.3 55.2,83.5" stroke-width="2.0" opacity="1.0"/><circle cx="54" cy="62" r="3.6" stroke="none" opacity="0.64"/><circle cx="54" cy="62" r="1.5" stroke="none" opacity="0.333"/><circle cx="87" cy="30.6" r="1.7" stroke="none" opacity="0.7"/><circle cx="46" cy="82.8" r="1.6" stroke="none" opacity="0.5"/><polyline points="95,70 102,68" fill="none" stroke-width="1.5" opacity="0.45"/><polyline points="48,67 45,68" fill="none" stroke-width="1.5" opacity="0.45"/></g></g></svg>
<svg x="216.2" y="1029.6" width="144" height="144" viewBox="0 0 144 144" overflow="hidden"><g filter="url(#jet)"><rect x="-12" y="-12" width="168" height="168" fill="rgb(0,0,0)"/><g fill="#fff" stroke="#fff" stroke-linecap="round" stroke-linejoin="round"><polyline points="80,92 100,104 122,112 138,128" fill="none" stroke-width="5" opacity="0.07"/><polyline points="100,104 130,100" fill="none" stroke-width="3" opacity="0.05"/><circle cx="50" cy="36" r="7" stroke="none" opacity="0.05"/><ellipse cx="53" cy="63" rx="7.5" ry="6.5" stroke="none" opacity="0.5"/><ellipse cx="78" cy="60" rx="8" ry="6" stroke="none" opacity="0.4" transform="rotate(20 78 60)"/><ellipse cx="80" cy="78" rx="2.6" ry="4.5" stroke="none" opacity="0.4" transform="rotate(20 80 78)"/><polygon points="58.2,48.1 61.3,45.1 66.6,45.5 68.8,49.6 68.1,54.9 71.1,58.7 71.9,64 68.8,67.8 64.3,69.3 60.5,66.3 57.5,61.7 58.2,56.4 59,52.6" stroke-width="3.6" opacity="0.4"/><polygon points="58.2,48.1 61.3,45.1 66.6,45.5 68.8,49.6 68.1,54.9 71.1,58.7 71.9,64 68.8,67.8 64.3,69.3 60.5,66.3 57.5,61.7 58.2,56.4 59,52.6" stroke-width="2.0" opacity="1.0"/><circle cx="83.5" cy="67.6" r="7.8" stroke="none" opacity="0.45"/><circle cx="83.5" cy="67.6" r="5.0" stroke="none" opacity="0.636"/><circle cx="83.5" cy="67.6" r="2.6" stroke="none" opacity="0.65"/><polygon points="51.4,76.9 55.2,74.9 64.3,76.1 68.1,80.6 68.8,85.2 65.1,88.2 59.8,88.2 54.5,85.9 51.4,81.4" stroke-width="3.6" opacity="0.4"/><polygon points="51.4,76.9 55.2,74.9 64.3,76.1 68.1,80.6 68.8,85.2 65.1,88.2 59.8,88.2 54.5,85.9 51.4,81.4" stroke-width="2.0" opacity="1.0"/><circle cx="52.2" cy="63.8" r="4.4" stroke="none" opacity="0.64"/><circle cx="52.2" cy="63.8" r="2.4" stroke="none" opacity="0.444"/><circle cx="81.7" cy="29.8" r="1.4" stroke="none" opacity="0.45"/><circle cx="82" cy="34" r="1.4" stroke="none" opacity="0.45"/><circle cx="44.5" cy="83" r="1.4" stroke="none" opacity="0.45"/><polyline points="90,70 94,68.5" fill="none" stroke-width="1.5" opacity="0.45"/></g></g></svg>
<svg x="377" y="1029.6" width="144" height="144" viewBox="0 0 144 144" overflow="hidden"><g filter="url(#jet)"><rect x="-12" y="-12" width="168" height="168" fill="rgb(0,0,0)"/><g fill="#fff" stroke="#fff" stroke-linecap="round" stroke-linejoin="round"><polyline points="80,92 100,104 122,112 138,128" fill="none" stroke-width="5" opacity="0.07"/><polyline points="100,104 130,100" fill="none" stroke-width="3" opacity="0.05"/><circle cx="50" cy="36" r="7" stroke="none" opacity="0.05"/><ellipse cx="77" cy="60" rx="7" ry="5" stroke="none" opacity="0.4" transform="rotate(20 77 60)"/><ellipse cx="77" cy="77" rx="2.4" ry="4" stroke="none" opacity="0.4" transform="rotate(20 77 77)"/><circle cx="63" cy="49.6" r="6.8" stroke="none" opacity="0.48"/><circle cx="63" cy="49.6" r="4.4" stroke="none" opacity="0.692"/><circle cx="63" cy="49.6" r="2.6" stroke="none" opacity="0.625"/><polygon points="57.2,59.3 60.9,56.3 66.9,56.9 69.9,60.5 69.6,65.3 65.7,69 62.1,69.6 58.4,66.6" stroke-width="3.6" opacity="0.4"/><polygon points="57.2,59.3 60.9,56.3 66.9,56.9 69.9,60.5 69.6,65.3 65.7,69 62.1,69.6 58.4,66.6" stroke-width="2.0" opacity="1.0"/><polyline points="63,50 64,62" fill="none" stroke-width="5" opacity="0.85"/><circle cx="50" cy="63.9" r="6.6" stroke="none" opacity="0.5"/><circle cx="50" cy="63.9" r="4.0" stroke="none" opacity="0.64"/><circle cx="50" cy="63.9" r="2.2" stroke="none" opacity="0.444"/><circle cx="82.9" cy="68" r="7.0" stroke="none" opacity="0.5"/><circle cx="82.9" cy="68" r="4.0" stroke="none" opacity="0.56"/><circle cx="82.9" cy="68" r="2.2" stroke="none" opacity="0.455"/><polygon points="51.8,78 56,76.2 63.3,78 66.9,81.7 66.3,85.3 62.1,87.1 57.2,85.9 53,82.3" stroke-width="3.6" opacity="0.4"/><polygon points="51.8,78 56,76.2 63.3,78 66.9,81.7 66.3,85.3 62.1,87.1 57.2,85.9 53,82.3" stroke-width="2.0" opacity="1.0"/><circle cx="43.9" cy="83.1" r="1.4" stroke="none" opacity="0.45"/><polyline points="90,70 93,69" fill="none" stroke-width="1.5" opacity="0.45"/></g></g></svg>
<svg x="567" y="1029.8" width="144" height="144" viewBox="0 0 144 144" overflow="hidden"><g filter="url(#jet)"><rect x="-12" y="-12" width="168" height="168" fill="rgb(0,0,0)"/><g fill="#fff" stroke="#fff" stroke-linecap="round" stroke-linejoin="round"><polyline points="52,75 56,88 66,104" fill="none" stroke-width="4" opacity="0.07"/><polyline points="56,88 90,82 144,80" fill="none" stroke-width="2.5" opacity="0.08"/><polyline points="16,106 50,102 75,110" fill="none" stroke-width="5" opacity="0.06"/><circle cx="72" cy="70" r="7" stroke="none" opacity="0.07"/><circle cx="88" cy="64" r="7" stroke="none" opacity="0.07"/><polyline points="92,60 100,48" fill="none" stroke-width="2" opacity="0.08"/><circle cx="29.2" cy="60.8" r="7.2" stroke="none" opacity="0.5"/><circle cx="29.2" cy="60.8" r="4.6" stroke="none" opacity="0.68"/><circle cx="29.2" cy="60.8" r="2.6" stroke="none" opacity="0.625"/><circle cx="56.4" cy="49.5" r="7.4" stroke="none" opacity="0.45"/><circle cx="56.4" cy="49.5" r="4.6" stroke="none" opacity="0.345"/><circle cx="56.4" cy="49.5" r="1.6" stroke="none" opacity="0.167"/><polyline points="62,43 66,39" fill="none" stroke-width="1.5" opacity="0.4"/><ellipse cx="66.3" cy="59" rx="7.7" ry="7.9" stroke="none" opacity="0.4"/><ellipse cx="66.3" cy="59" rx="6.7" ry="6.9" stroke="none" opacity="1.0"/><ellipse cx="101" cy="38.9" rx="7.1" ry="6.1" stroke="none" opacity="0.4"/><ellipse cx="101" cy="38.9" rx="6.1" ry="5.1" stroke="none" opacity="1.0"/><polyline points="96,44 94,48" fill="none" stroke-width="2.2" opacity="0.5"/><circle cx="95" cy="57" r="1.6" stroke="none" opacity="0.35"/><circle cx="87.4" cy="65.4" r="1.5" stroke="none" opacity="0.3"/></g></g></svg>
<svg x="728.2" y="1029.8" width="144" height="144" viewBox="0 0 144 144" overflow="hidden"><g filter="url(#jet)"><rect x="-12" y="-12" width="168" height="168" fill="rgb(0,0,0)"/><g fill="#fff" stroke="#fff" stroke-linecap="round" stroke-linejoin="round"><polyline points="20,112 60,110 95,117" fill="none" stroke-width="6" opacity="0.06"/><circle cx="102.9" cy="46" r="5.2" stroke="none" opacity="0.55"/><circle cx="102.9" cy="46" r="3.0" stroke="none" opacity="0.244"/><circle cx="102.9" cy="46" r="1.2" stroke="none" opacity="0.235"/><circle cx="58.2" cy="57.5" r="4.6" stroke="none" opacity="0.33"/><ellipse cx="67.8" cy="66.9" rx="5.4" ry="6.8" stroke="none" opacity="0.38"/><ellipse cx="67.8" cy="66.9" rx="3" ry="3.8" stroke="none" opacity="0.097"/><circle cx="30.7" cy="69.1" r="6.5" stroke="none" opacity="0.1"/><circle cx="97.3" cy="65.4" r="6.5" stroke="none" opacity="0.09"/><circle cx="70" cy="82" r="7" stroke="none" opacity="0.09"/><circle cx="62" cy="49" r="6" stroke="none" opacity="0.07"/></g></g></svg>
<svg x="890.2" y="1029.8" width="144" height="144" viewBox="0 0 144 144" overflow="hidden"><g filter="url(#jet)"><rect x="-12" y="-12" width="168" height="168" fill="rgb(0,0,0)"/><g fill="#fff" stroke="#fff" stroke-linecap="round" stroke-linejoin="round"><polyline points="4,107.7 40,113 94.7,117.4" fill="none" stroke-width="6" opacity="0.055"/><ellipse cx="103.8" cy="46.3" rx="5.0" ry="4.0" stroke="none" opacity="0.55"/><ellipse cx="103.8" cy="46.3" rx="3.2" ry="2.6" stroke="none" opacity="0.244"/><circle cx="57.8" cy="57.8" r="3.4" stroke="none" opacity="0.28"/><circle cx="68.7" cy="68.4" r="4.2" stroke="none" opacity="0.35"/><circle cx="31.8" cy="69" r="6.5" stroke="none" opacity="0.09"/><circle cx="99" cy="65.3" r="6.5" stroke="none" opacity="0.08"/><circle cx="70.5" cy="81" r="7.5" stroke="none" opacity="0.09"/><circle cx="62" cy="49.6" r="6.5" stroke="none" opacity="0.07"/></g></g></svg>
<rect x="1051" y="868.8" width="23.5" height="143" fill="url(#cbar)" stroke="#3a3a3a" stroke-width="1"/>
<text x="1080" y="874" font-size="15.5" text-anchor="start" fill="#000">250</text>
<text x="1087" y="1017" font-size="15.5" text-anchor="start" fill="#000">0</text>
<text x="35" y="936" font-size="23.6" text-anchor="middle" fill="#000" transform="rotate(-90 35 936)">NSD</text>
<text x="35" y="1097" font-size="23.6" text-anchor="middle" fill="#000" transform="rotate(-90 35 1097)">HSD</text>
<text x="357" y="1225" font-size="23.6" text-anchor="start" fill="#000">DTk<tspan font-size="14.9" dy="-8.0">5Fa</tspan><tspan dy="8.0"> &gt; P2X2; R18H11 &gt; GCamp6</tspan></text>
<text x="962" y="88.7" font-size="46" text-anchor="start" fill="#000">b</text>
<rect x="1145" y="141" width="188" height="286.5" fill="url(#dots)" stroke="none" stroke-width="0"/>
<line x1="1051.6" y1="215.2" x2="1329.6" y2="215.2" stroke="#000" stroke-width="1.3" stroke-dasharray="1.6 3"/>
<polygon points="1049.6,187.7 1073.1,197.5 1096.6,207.4 1120.1,215.2 1143.6,225.8 1167.1,296.0 1190.6,288.6 1214.1,296.0 1237.6,290.4 1261.1,311.2 1284.6,313.3 1308.1,319.0 1331.6,329.2 1331.6,395.9 1308.1,391.7 1284.6,388.2 1261.1,386.1 1237.6,377.6 1214.1,378.3 1190.6,380.4 1167.1,382.9 1143.6,242.7 1120.1,231.1 1096.6,222.3 1073.1,215.2 1049.6,208.1" fill="#fadcdc" opacity="1"/>
<polyline points="1049.6,196.8 1073.1,206.0 1096.6,216.6 1120.1,221.6 1143.6,237.1 1167.1,340.5 1190.6,333.8 1214.1,337.3 1237.6,334.2 1261.1,348.6 1284.6,351.8 1308.1,355.0 1331.6,363.5" fill="none" stroke="#9b1c20" stroke-width="3.0" stroke-linejoin="round" stroke-linecap="square"/>
<polygon points="1049.6,197.5 1073.1,204.6 1096.6,212.4 1120.1,219.4 1143.6,225.8 1167.1,218.0 1190.6,219.4 1214.1,225.8 1237.6,232.8 1261.1,237.8 1284.6,242.0 1308.1,246.3 1331.6,250.5 1331.6,273.4 1308.1,268.1 1284.6,261.1 1261.1,254.0 1237.6,247.0 1214.1,239.9 1190.6,236.4 1167.1,232.8 1143.6,231.1 1120.1,225.8 1096.6,217.0 1073.1,209.9 1049.6,202.8" fill="#dcdcdc" opacity="1"/>
<polyline points="1049.6,200.4 1073.1,207.4 1096.6,215.2 1120.1,222.3 1143.6,228.8 1167.1,227.9 1190.6,231.4 1214.1,236.4 1237.6,242.0 1261.1,247.7 1284.6,253.7 1308.1,258.3 1331.6,261.1" fill="none" stroke="#000" stroke-width="2.6" stroke-linejoin="round" stroke-linecap="square"/>
<polygon points="1049.6,188.7 1073.1,199.0 1096.6,208.8 1120.1,223.7 1143.6,229.3 1167.1,222.3 1190.6,225.8 1214.1,231.1 1237.6,243.8 1261.1,250.1 1284.6,256.5 1308.1,264.6 1331.6,272.7 1331.6,301.0 1308.1,294.6 1284.6,285.8 1261.1,277.0 1237.6,269.9 1214.1,259.3 1190.6,250.5 1167.1,245.9 1143.6,240.6 1120.1,231.4 1096.6,218.0 1073.1,208.1 1049.6,199.3" fill="#cbe6c3" opacity="1"/>
<polyline points="1049.6,194.0 1073.1,203.2 1096.6,212.4 1120.1,227.2 1143.6,234.6 1167.1,233.6 1190.6,239.2 1214.1,245.4 1237.6,256.7 1261.1,263.6 1284.6,270.3 1308.1,280.2 1331.6,286.9" fill="none" stroke="#22b04b" stroke-width="3.2" stroke-linejoin="round" stroke-linecap="square"/>
<line x1="1049.6" y1="143" x2="1049.6" y2="436.5" stroke="#000" stroke-width="3"/>
<line x1="1048.1" y1="427.6" x2="1333.1" y2="427.6" stroke="#000" stroke-width="3"/>
<line x1="1040.1" y1="144.59999999999997" x2="1049.6" y2="144.59999999999997" stroke="#000" stroke-width="3"/>
<text x="1038.5" y="152.89999999999998" font-size="24" text-anchor="end" fill="#000">0.2</text>
<line x1="1040.1" y1="215.2" x2="1049.6" y2="215.2" stroke="#000" stroke-width="3"/>
<text x="1038.5" y="223.5" font-size="24" text-anchor="end" fill="#000">-0.0</text>
<line x1="1040.1" y1="285.8" x2="1049.6" y2="285.8" stroke="#000" stroke-width="3"/>
<text x="1038.5" y="294.1" font-size="24" text-anchor="end" fill="#000">-0.2</text>
<line x1="1040.1" y1="356.4" x2="1049.6" y2="356.4" stroke="#000" stroke-width="3"/>
<text x="1038.5" y="364.7" font-size="24" text-anchor="end" fill="#000">-0.4</text>
<line x1="1040.1" y1="427.0" x2="1049.6" y2="427.0" stroke="#000" stroke-width="3"/>
<text x="1038.5" y="435.3" font-size="24" text-anchor="end" fill="#000">-0.6</text>
<line x1="1049.6" y1="427.6" x2="1049.6" y2="436.5" stroke="#000" stroke-width="3"/>
<text x="1049.6" y="466.8" font-size="24" text-anchor="middle" fill="#000">0</text>
<line x1="1143.6" y1="427.6" x2="1143.6" y2="436.5" stroke="#000" stroke-width="3"/>
<text x="1143.6" y="466.8" font-size="24" text-anchor="middle" fill="#000">20</text>
<line x1="1237.6" y1="427.6" x2="1237.6" y2="436.5" stroke="#000" stroke-width="3"/>
<text x="1237.6" y="466.8" font-size="24" text-anchor="middle" fill="#000">40</text>
<line x1="1331.6" y1="427.6" x2="1331.6" y2="436.5" stroke="#000" stroke-width="3"/>
<text x="1331.6" y="466.8" font-size="24" text-anchor="middle" fill="#000">60</text>
<text x="1190" y="497.5" font-size="23.6" text-anchor="middle" fill="#000">Time(s)</text>
<text x="988.6" y="285.5" font-size="23.6" text-anchor="middle" fill="#000" transform="rotate(-90 988.6 285.5)">ΔF/F</text>
<line x1="1145" y1="125.5" x2="1145" y2="160.5" stroke="#231f20" stroke-width="2.2"/>
<polygon points="1133.5,158.5 1156.5,158.5 1145,181.8" fill="#231f20"/>
<text x="1175" y="411.9" font-size="37.3" text-anchor="middle" fill="#000" font-weight="normal" stroke="#000" stroke-width="0.55">***</text>
<rect x="1150.6" y="524.8" width="542.3" height="131.3" fill="#fff" stroke="#231f20" stroke-width="2.9"/>
<line x1="1172.8" y1="548.4" x2="1213.2" y2="548.4" stroke="#22b04b" stroke-width="4"/>
<line x1="1172.8" y1="585.6" x2="1213.2" y2="585.6" stroke="#231f20" stroke-width="4"/>
<line x1="1172.8" y1="623.4" x2="1213.2" y2="623.4" stroke="#9b1c20" stroke-width="4"/>
<text x="1229" y="557.3" font-size="23.6" text-anchor="start" fill="#000">R18H11 &gt; GCamp6 + ATP</text>
<text x="1229" y="595.3" font-size="23.6" text-anchor="start" fill="#000">DTk<tspan font-size="14.9" dy="-8.0">5Fa</tspan><tspan dy="8.0"> &gt; P2X2; R18H11 &gt; GCamp6 + AHL</tspan></text>
<text x="1229" y="634" font-size="23.6" text-anchor="start" fill="#000">DTk<tspan font-size="14.9" dy="-8.0">5Fa</tspan><tspan dy="8.0"> &gt; P2X2; R18H11 &gt; GCamp6 + ATP</tspan></text>
<text x="1432.8" y="88.8" font-size="46" text-anchor="start" fill="#000">c</text>
<rect x="1553.55" y="194.95" width="50.70000000000014" height="231.55" fill="#9c9ea8" stroke="#000" stroke-width="2.9"/>
<rect x="1656.65" y="198.75" width="50.80000000000005" height="227.75" fill="#add99a" stroke="#000" stroke-width="2.9"/>
<rect x="1759.65" y="310.05" width="50.6" height="116.44999999999997" fill="#f59c9c" stroke="#000" stroke-width="2.9"/>
<line x1="1579" y1="190.1" x2="1579" y2="194" stroke="#000" stroke-width="2.8"/>
<line x1="1565.3" y1="190.1" x2="1592.7" y2="190.1" stroke="#000" stroke-width="2.8"/>
<line x1="1682.3" y1="191.1" x2="1682.3" y2="198" stroke="#000" stroke-width="2.8"/>
<line x1="1668.3" y1="191.1" x2="1696.3" y2="191.1" stroke="#000" stroke-width="2.8"/>
<line x1="1785" y1="299.3" x2="1785" y2="309" stroke="#000" stroke-width="2.8"/>
<line x1="1771" y1="299.3" x2="1799" y2="299.3" stroke="#000" stroke-width="2.8"/>
<g fill="none" stroke="#58595b" stroke-width="1.4"><circle cx="1579.2" cy="141.5" r="3.1"/><circle cx="1587.9" cy="144.4" r="3.1"/><circle cx="1579.2" cy="151.8" r="3.1"/><circle cx="1570.4" cy="154.4" r="3.1"/><circle cx="1587.9" cy="153.5" r="3.1"/><circle cx="1579.2" cy="160.9" r="3.1"/><circle cx="1561.7" cy="175.1" r="3.1"/><circle cx="1583.6" cy="173.7" r="3.1"/><circle cx="1570.4" cy="179.8" r="3.1"/><circle cx="1579.2" cy="182.1" r="3.1"/><circle cx="1587.9" cy="181.9" r="3.1"/><circle cx="1596.6" cy="178.5" r="3.1"/><circle cx="1561.7" cy="191.0" r="3.1"/><circle cx="1574.9" cy="189.8" r="3.1"/><circle cx="1596.6" cy="190.3" r="3.1"/><circle cx="1570.4" cy="194.7" r="3.1"/><circle cx="1587.9" cy="193.0" r="3.1"/><circle cx="1579.2" cy="197.1" r="3.1"/><circle cx="1561.7" cy="200.4" r="3.1"/><circle cx="1570.4" cy="204.1" r="3.1"/><circle cx="1579.2" cy="206.5" r="3.1"/><circle cx="1587.9" cy="205.0" r="3.1"/><circle cx="1596.6" cy="203.6" r="3.1"/><circle cx="1561.7" cy="208.2" r="3.1"/><circle cx="1570.4" cy="210.3" r="3.1"/><circle cx="1587.9" cy="208.9" r="3.1"/><circle cx="1596.6" cy="207.9" r="3.1"/><circle cx="1579.2" cy="216.6" r="3.1"/><circle cx="1570.4" cy="223.6" r="3.1"/><circle cx="1596.6" cy="222.4" r="3.1"/><circle cx="1587.9" cy="226.7" r="3.1"/><circle cx="1579.2" cy="230.3" r="3.1"/><circle cx="1574.9" cy="232.3" r="3.1"/><circle cx="1561.7" cy="235.9" r="3.1"/><circle cx="1570.4" cy="238.5" r="3.1"/><circle cx="1579.2" cy="239.8" r="3.1"/><circle cx="1587.9" cy="236.8" r="3.1"/><circle cx="1596.6" cy="233.4" r="3.1"/><circle cx="1579.2" cy="248.7" r="3.1"/><circle cx="1587.9" cy="247.7" r="3.1"/><circle cx="1570.4" cy="258.5" r="3.1"/><circle cx="1579.2" cy="259.3" r="3.1"/><circle cx="1579.2" cy="279.3" r="3.1"/><circle cx="1587.9" cy="277.1" r="3.1"/><circle cx="1683.1" cy="144.4" r="3.1"/><circle cx="1674.4" cy="154.9" r="3.1"/><circle cx="1683.1" cy="156.2" r="3.1"/><circle cx="1700.4" cy="157.4" r="3.1"/><circle cx="1674.4" cy="163.9" r="3.1"/><circle cx="1683.1" cy="166.0" r="3.1"/><circle cx="1691.8" cy="165.5" r="3.1"/><circle cx="1687.6" cy="169.9" r="3.1"/><circle cx="1678.8" cy="171.3" r="3.1"/><circle cx="1665.7" cy="172.7" r="3.1"/><circle cx="1674.4" cy="174.4" r="3.1"/><circle cx="1691.8" cy="173.0" r="3.1"/><circle cx="1700.4" cy="172.0" r="3.1"/><circle cx="1683.1" cy="177.4" r="3.1"/><circle cx="1678.8" cy="181.7" r="3.1"/><circle cx="1687.6" cy="181.9" r="3.1"/><circle cx="1665.7" cy="184.8" r="3.1"/><circle cx="1674.4" cy="185.7" r="3.1"/><circle cx="1700.4" cy="185.1" r="3.1"/><circle cx="1691.8" cy="188.4" r="3.1"/><circle cx="1683.1" cy="189.8" r="3.1"/><circle cx="1661.4" cy="191.5" r="3.1"/><circle cx="1704.8" cy="191.1" r="3.1"/><circle cx="1696.1" cy="191.8" r="3.1"/><circle cx="1665.7" cy="196.4" r="3.1"/><circle cx="1674.4" cy="196.4" r="3.1"/><circle cx="1678.8" cy="193.9" r="3.1"/><circle cx="1691.8" cy="196.4" r="3.1"/><circle cx="1700.4" cy="196.1" r="3.1"/><circle cx="1683.1" cy="198.6" r="3.1"/><circle cx="1678.8" cy="203.3" r="3.1"/><circle cx="1687.6" cy="204.5" r="3.1"/><circle cx="1696.1" cy="202.4" r="3.1"/><circle cx="1665.7" cy="206.5" r="3.1"/><circle cx="1674.4" cy="206.9" r="3.1"/><circle cx="1683.1" cy="208.2" r="3.1"/><circle cx="1691.8" cy="206.9" r="3.1"/><circle cx="1700.4" cy="206.5" r="3.1"/><circle cx="1665.7" cy="212.0" r="3.1"/><circle cx="1674.4" cy="215.1" r="3.1"/><circle cx="1691.8" cy="214.4" r="3.1"/><circle cx="1683.1" cy="217.6" r="3.1"/><circle cx="1691.8" cy="233.0" r="3.1"/><circle cx="1683.1" cy="236.6" r="3.1"/><circle cx="1683.1" cy="275.4" r="3.1"/><circle cx="1691.8" cy="300.5" r="3.1"/><circle cx="1683.1" cy="308.4" r="3.1"/><circle cx="1787.2" cy="149.7" r="3.1"/><circle cx="1787.2" cy="179.0" r="3.1"/><circle cx="1778.5" cy="199.8" r="3.1"/><circle cx="1787.2" cy="204.1" r="3.1"/><circle cx="1795.9" cy="202.7" r="3.1"/><circle cx="1804.5" cy="199.3" r="3.1"/><circle cx="1778.5" cy="219.3" r="3.1"/><circle cx="1787.2" cy="224.5" r="3.1"/><circle cx="1795.9" cy="219.0" r="3.1"/><circle cx="1778.5" cy="236.1" r="3.1"/><circle cx="1787.2" cy="240.4" r="3.1"/><circle cx="1795.9" cy="239.3" r="3.1"/><circle cx="1804.5" cy="233.2" r="3.1"/><circle cx="1778.5" cy="254.2" r="3.1"/><circle cx="1787.2" cy="255.4" r="3.1"/><circle cx="1778.5" cy="262.4" r="3.1"/><circle cx="1787.2" cy="266.9" r="3.1"/><circle cx="1795.9" cy="263.4" r="3.1"/><circle cx="1804.5" cy="260.2" r="3.1"/><circle cx="1778.5" cy="282.4" r="3.1"/><circle cx="1787.2" cy="286.4" r="3.1"/><circle cx="1787.2" cy="302.7" r="3.1"/><circle cx="1778.5" cy="311.5" r="3.1"/><circle cx="1795.9" cy="310.3" r="3.1"/><circle cx="1787.2" cy="313.0" r="3.1"/><circle cx="1778.5" cy="315.4" r="3.1"/><circle cx="1787.2" cy="323.9" r="3.1"/><circle cx="1795.9" cy="323.1" r="3.1"/><circle cx="1778.5" cy="328.2" r="3.1"/><circle cx="1787.2" cy="335.6" r="3.1"/><circle cx="1778.5" cy="339.2" r="3.1"/><circle cx="1795.9" cy="339.2" r="3.1"/><circle cx="1787.2" cy="345.3" r="3.1"/><circle cx="1787.2" cy="356.6" r="3.1"/><circle cx="1778.5" cy="364.8" r="3.1"/><circle cx="1795.9" cy="368.6" r="3.1"/><circle cx="1769.8" cy="375.1" r="3.1"/><circle cx="1782.8" cy="373.2" r="3.1"/><circle cx="1787.2" cy="372.5" r="3.1"/><circle cx="1795.9" cy="375.4" r="3.1"/><circle cx="1804.5" cy="373.7" r="3.1"/><circle cx="1778.5" cy="381.2" r="3.1"/><circle cx="1787.2" cy="382.1" r="3.1"/><circle cx="1804.5" cy="386.5" r="3.1"/><circle cx="1778.5" cy="388.4" r="3.1"/><circle cx="1795.9" cy="392.3" r="3.1"/><circle cx="1787.2" cy="395.2" r="3.1"/><circle cx="1778.5" cy="402.4" r="3.1"/><circle cx="1787.2" cy="406.9" r="3.1"/><circle cx="1787.2" cy="417.6" r="3.1"/></g>
<line x1="1527.4" y1="139.5" x2="1527.4" y2="428" stroke="#000" stroke-width="3"/>
<line x1="1518.5" y1="426.5" x2="1837.7" y2="426.5" stroke="#000" stroke-width="3"/>
<line x1="1518.5" y1="426.5" x2="1527.4" y2="426.5" stroke="#000" stroke-width="3"/>
<text x="1517.5" y="433.8" font-size="20.5" text-anchor="end" fill="#000">0</text>
<line x1="1518.5" y1="331.332" x2="1527.4" y2="331.332" stroke="#000" stroke-width="3"/>
<text x="1517.5" y="338.632" font-size="20.5" text-anchor="end" fill="#000">40</text>
<line x1="1518.5" y1="236.164" x2="1527.4" y2="236.164" stroke="#000" stroke-width="3"/>
<text x="1517.5" y="243.464" font-size="20.5" text-anchor="end" fill="#000">80</text>
<line x1="1518.5" y1="140.99599999999998" x2="1527.4" y2="140.99599999999998" stroke="#000" stroke-width="3"/>
<text x="1517.5" y="148.296" font-size="20.5" text-anchor="end" fill="#000">120</text>
<line x1="1578.8" y1="426.5" x2="1578.8" y2="435.6" stroke="#000" stroke-width="3"/>
<line x1="1682.1" y1="426.5" x2="1682.1" y2="435.6" stroke="#000" stroke-width="3"/>
<line x1="1785" y1="426.5" x2="1785" y2="435.6" stroke="#000" stroke-width="3"/>
<text x="1577.2" y="465.3" font-size="23.6" text-anchor="middle" fill="#000">AHL</text>
<text x="1682.3" y="465.3" font-size="23.6" text-anchor="middle" fill="#000">ATP</text>
<text x="1786.2" y="465.3" font-size="23.6" text-anchor="middle" fill="#000">ATP</text>
<text x="1466.6" y="283.5" font-size="23.6" text-anchor="middle" fill="#000" transform="rotate(-90 1466.6 283.5)">Percent of [Ca<tspan font-size="17.5" dy="-9">2+</tspan><tspan dy="9">]</tspan></text>
<line x1="1579.5" y1="113.8" x2="1781.7" y2="113.8" stroke="#231f20" stroke-width="3.0"/>
<text x="1678.6" y="116.9" font-size="37.3" text-anchor="middle" fill="#000" font-weight="normal" stroke="#000" stroke-width="0.55">***</text>
<text x="1153.5" y="772" font-size="47" text-anchor="start" fill="#000">e</text>
<text x="1159.5" y="816.8" font-size="23.6" text-anchor="start" fill="#000">DTk<tspan font-size="14.9" dy="-8.0">5Fa</tspan><tspan dy="8.0"> &gt; P2X2; R18H11 &gt; GCamp6</tspan></text>
<rect x="1339" y="858" width="190" height="287.5" fill="url(#dots)" stroke="none" stroke-width="0"/>
<line x1="1244.3" y1="918.4" x2="1524.7" y2="918.4" stroke="#000" stroke-width="1.3" stroke-dasharray="2.2 2"/>
<polygon points="1242.3,897.9 1266.0,906.5 1289.7,915.8 1313.4,924.4 1337.1,932.6 1360.8,1065.5 1384.5,1066.9 1408.2,1067.8 1431.9,1069.2 1455.6,1071.7 1479.3,1073.7 1503.0,1076.0 1526.7,1078.3 1526.7,1093.1 1503.0,1090.8 1479.3,1088.5 1455.6,1086.5 1431.9,1084.0 1408.2,1082.6 1384.5,1081.7 1360.8,1080.3 1337.1,939.5 1313.4,931.2 1289.7,922.7 1266.0,913.3 1242.3,904.7" fill="#f3cfd1" opacity="1"/>
<polygon points="1242.3,894.2 1266.0,904.7 1289.7,915.6 1313.4,924.9 1337.1,932.1 1360.8,1020.3 1384.5,1029.4 1408.2,1036.8 1431.9,1042.7 1455.6,1046.7 1479.3,1049.6 1503.0,1053.8 1526.7,1058.1 1526.7,1073.5 1503.0,1069.2 1479.3,1064.9 1455.6,1062.1 1431.9,1058.1 1408.2,1052.1 1384.5,1044.7 1360.8,1035.6 1337.1,938.9 1313.4,931.8 1289.7,922.4 1266.0,911.6 1242.3,901.0" fill="#b3b1db" opacity="1"/>
<polygon points="1242.3,898.2 1266.0,908.2 1289.7,917.3 1313.4,923.8 1337.1,929.8 1360.8,899.9 1384.5,899.9 1408.2,902.9 1431.9,906.2 1455.6,909.8 1479.3,913.3 1503.0,916.7 1526.7,921.5 1526.7,947.1 1503.0,942.3 1479.3,938.9 1455.6,935.4 1431.9,931.8 1408.2,928.5 1384.5,925.5 1360.8,925.5 1337.1,933.2 1313.4,927.2 1289.7,920.7 1266.0,911.6 1242.3,901.6" fill="#d8d9d9" opacity="1"/>
<polygon points="1242.3,909.9 1266.0,913.3 1289.7,916.7 1313.4,920.1 1337.1,922.7 1360.8,907.9 1384.5,910.7 1408.2,918.0 1431.9,921.2 1455.6,924.9 1479.3,928.4 1503.0,931.8 1526.7,936.6 1526.7,946.0 1503.0,943.7 1479.3,941.4 1455.6,938.0 1431.9,934.6 1408.2,930.3 1384.5,926.1 1360.8,923.2 1337.1,926.1 1313.4,923.5 1289.7,920.1 1266.0,916.7 1242.3,913.3" fill="#fad3ad" opacity="1"/>
<polyline points="1242.3,899.9 1266.0,909.9 1289.7,919.0 1313.4,925.5 1337.1,931.5" fill="none" stroke="#000" stroke-width="1.6" stroke-linejoin="round" stroke-linecap="square"/>
<polyline points="1384.5,912.7 1408.2,915.7 1431.9,919.0 1455.6,922.6 1479.3,926.1 1503.0,929.5 1526.7,934.3" fill="none" stroke="#000" stroke-width="2.6" stroke-linejoin="round" stroke-linecap="square"/>
<polygon points="1360.8,907.9 1384.5,910.7 1408.2,918.0 1408.2,930.3 1384.5,926.1 1360.8,923.2" fill="#fad3ad" opacity="1"/>
<polyline points="1242.3,901.3 1266.0,909.9 1289.7,919.3 1313.4,927.8 1337.1,936.0" fill="none" stroke="#9b1c20" stroke-width="2.0" stroke-linejoin="round" stroke-linecap="square"/>
<polyline points="1337.1,936.0 1360.8,1072.9" fill="none" stroke="#dcaeb1" stroke-width="1.6" stroke-linejoin="round" stroke-linecap="square"/>
<polyline points="1360.8,1072.9 1384.5,1074.3 1408.2,1075.2 1431.9,1076.6 1455.6,1079.1 1479.3,1081.1 1503.0,1083.4 1526.7,1085.7" fill="none" stroke="#9b1c20" stroke-width="2.2" stroke-linejoin="round" stroke-linecap="square"/>
<polyline points="1242.3,897.6 1266.0,908.2 1289.7,919.0 1313.4,928.4 1337.1,935.5" fill="none" stroke="#7f83c9" stroke-width="1.5" stroke-linejoin="round" stroke-linecap="square"/>
<polyline points="1337.1,935.5 1360.8,1027.9" fill="none" stroke="#5a69b8" stroke-width="1.7" stroke-linejoin="round" stroke-linecap="square"/>
<polyline points="1360.8,1027.9 1384.5,1037.0 1408.2,1044.4 1431.9,1050.4 1455.6,1054.4 1479.3,1057.2 1503.0,1061.5 1526.7,1065.8" fill="none" stroke="#3c50a8" stroke-width="2.2" stroke-linejoin="round" stroke-linecap="square"/>
<polyline points="1242.3,911.6 1266.0,915.0 1289.7,918.4 1313.4,921.8 1337.1,924.4" fill="none" stroke="#f79a3e" stroke-width="2.0" stroke-linejoin="round" stroke-linecap="square"/>
<polyline points="1337.1,924.4 1360.8,915.6 1384.5,918.4 1408.2,922.7 1431.9,926.9 1455.6,930.3 1479.3,933.8 1503.0,936.0 1526.7,938.3" fill="none" stroke="#f79a3e" stroke-width="3.2" stroke-linejoin="round" stroke-linecap="square"/>
<line x1="1242.3" y1="860" x2="1242.3" y2="1154.5" stroke="#000" stroke-width="3"/>
<line x1="1240.8" y1="1145.6" x2="1528.2" y2="1145.6" stroke="#000" stroke-width="3"/>
<line x1="1232.8" y1="861.5" x2="1242.3" y2="861.5" stroke="#000" stroke-width="3"/>
<text x="1231.5" y="869.8" font-size="24" text-anchor="end" fill="#000">0.2</text>
<line x1="1232.8" y1="918.4" x2="1242.3" y2="918.4" stroke="#000" stroke-width="3"/>
<text x="1231.5" y="926.6999999999999" font-size="24" text-anchor="end" fill="#000">-0.0</text>
<line x1="1232.8" y1="975.3" x2="1242.3" y2="975.3" stroke="#000" stroke-width="3"/>
<text x="1231.5" y="983.5999999999999" font-size="24" text-anchor="end" fill="#000">-0.2</text>
<line x1="1232.8" y1="1032.2" x2="1242.3" y2="1032.2" stroke="#000" stroke-width="3"/>
<text x="1231.5" y="1040.5" font-size="24" text-anchor="end" fill="#000">-0.4</text>
<line x1="1232.8" y1="1089.1" x2="1242.3" y2="1089.1" stroke="#000" stroke-width="3"/>
<text x="1231.5" y="1097.3999999999999" font-size="24" text-anchor="end" fill="#000">-0.6</text>
<line x1="1232.8" y1="1146.0" x2="1242.3" y2="1146.0" stroke="#000" stroke-width="3"/>
<text x="1231.5" y="1154.3" font-size="24" text-anchor="end" fill="#000">-0.8</text>
<line x1="1242.3" y1="1145.6" x2="1242.3" y2="1154.5" stroke="#000" stroke-width="3"/>
<text x="1242.3" y="1184.5" font-size="24" text-anchor="middle" fill="#000">0</text>
<line x1="1337.1" y1="1145.6" x2="1337.1" y2="1154.5" stroke="#000" stroke-width="3"/>
<text x="1337.1" y="1184.5" font-size="24" text-anchor="middle" fill="#000">20</text>
<line x1="1431.9" y1="1145.6" x2="1431.9" y2="1154.5" stroke="#000" stroke-width="3"/>
<text x="1431.9" y="1184.5" font-size="24" text-anchor="middle" fill="#000">40</text>
<line x1="1526.7" y1="1145.6" x2="1526.7" y2="1154.5" stroke="#000" stroke-width="3"/>
<text x="1526.7" y="1184.5" font-size="24" text-anchor="middle" fill="#000">60</text>
<text x="1384.5" y="1215" font-size="23.6" text-anchor="middle" fill="#000">Time(s)</text>
<text x="1180.3" y="1003" font-size="23.6" text-anchor="middle" fill="#000" transform="rotate(-90 1180.3 1003)">ΔF/F</text>
<line x1="1337" y1="824" x2="1337" y2="859.5" stroke="#231f20" stroke-width="2.2"/>
<polygon points="1325.5,857.5 1348.5,857.5 1337,879.8" fill="#231f20"/>
<text x="1366" y="1120.9" font-size="37.3" text-anchor="middle" fill="#000" font-weight="normal" stroke="#000" stroke-width="0.55">***</text>
<rect x="1452.6" y="1229.9" width="417" height="89.6" fill="#fff" stroke="#231f20" stroke-width="2.9"/>
<line x1="1469.6" y1="1254" x2="1509.8999999999999" y2="1254" stroke="#231f20" stroke-width="4"/>
<line x1="1469.6" y1="1288.2" x2="1509.8999999999999" y2="1288.2" stroke="#f79a3e" stroke-width="4"/>
<line x1="1674" y1="1254.5" x2="1714.3" y2="1254.5" stroke="#3c50a8" stroke-width="4"/>
<line x1="1674" y1="1288.2" x2="1714.3" y2="1288.2" stroke="#9b1c20" stroke-width="4"/>
<text x="1524.5" y="1263" font-size="23.6" text-anchor="start" fill="#000">AHL, NSD</text>
<text x="1524.5" y="1295.4" font-size="23.6" text-anchor="start" fill="#000">AHL, HSD</text>
<text x="1731.5" y="1263" font-size="23.6" text-anchor="start" fill="#000">ATP<tspan dx="3.6">,</tspan> NSD</text>
<text x="1731.5" y="1295.4" font-size="23.6" text-anchor="start" fill="#000">ATP<tspan dx="3.6">,</tspan> HSD</text>
<text x="1617" y="772" font-size="47" text-anchor="start" fill="#000">f</text>
<rect x="1698.75" y="898.75" width="45.899999999999956" height="247.15000000000015" fill="#9c9ea8" stroke="#000" stroke-width="2.9"/>
<rect x="1790.65" y="904.45" width="45.69999999999991" height="241.4500000000001" fill="#f9c083" stroke="#000" stroke-width="2.9"/>
<rect x="1882.75" y="999.0500000000001" width="45.70000000000014" height="146.85000000000008" fill="#8b89c4" stroke="#000" stroke-width="2.9"/>
<rect x="1974.8500000000001" y="1037.55" width="45.899999999999956" height="108.35000000000018" fill="#f59c9c" stroke="#000" stroke-width="2.9"/>
<line x1="1721.2" y1="891.4" x2="1721.2" y2="898" stroke="#000" stroke-width="2.8"/>
<line x1="1708.9" y1="891.4" x2="1733.5" y2="891.4" stroke="#000" stroke-width="2.8"/>
<line x1="1813.5" y1="896.7" x2="1813.5" y2="904" stroke="#000" stroke-width="2.8"/>
<line x1="1801.2" y1="896.7" x2="1825.8" y2="896.7" stroke="#000" stroke-width="2.8"/>
<line x1="1905.6" y1="992.4" x2="1905.6" y2="998" stroke="#000" stroke-width="2.8"/>
<line x1="1893.3" y1="992.4" x2="1917.8999999999999" y2="992.4" stroke="#000" stroke-width="2.8"/>
<line x1="1997.8" y1="1031.4" x2="1997.8" y2="1037" stroke="#000" stroke-width="2.8"/>
<line x1="1985.0" y1="1031.4" x2="2010.6" y2="1031.4" stroke="#000" stroke-width="2.8"/>
<g fill="none" stroke="#58595b" stroke-width="1.4"><circle cx="1730.9" cy="863.5" r="2.9"/><circle cx="1722.2" cy="866.7" r="2.9"/><circle cx="1717.9" cy="871.2" r="2.9"/><circle cx="1726.4" cy="870.8" r="2.9"/><circle cx="1704.8" cy="872.3" r="2.9"/><circle cx="1739.6" cy="872.2" r="2.9"/><circle cx="1713.5" cy="878.6" r="2.9"/><circle cx="1722.2" cy="879.0" r="2.9"/><circle cx="1730.9" cy="878.2" r="2.9"/><circle cx="1717.9" cy="886.3" r="2.9"/><circle cx="1726.4" cy="887.1" r="2.9"/><circle cx="1735.1" cy="885.6" r="2.9"/><circle cx="1704.8" cy="887.7" r="2.9"/><circle cx="1739.6" cy="889.9" r="2.9"/><circle cx="1713.5" cy="891.4" r="2.9"/><circle cx="1722.2" cy="893.3" r="2.9"/><circle cx="1730.9" cy="893.0" r="2.9"/><circle cx="1717.9" cy="896.2" r="2.9"/><circle cx="1704.8" cy="900.5" r="2.9"/><circle cx="1713.5" cy="902.4" r="2.9"/><circle cx="1722.2" cy="902.4" r="2.9"/><circle cx="1730.9" cy="900.9" r="2.9"/><circle cx="1739.6" cy="900.1" r="2.9"/><circle cx="1704.8" cy="907.0" r="2.9"/><circle cx="1726.4" cy="906.2" r="2.9"/><circle cx="1739.6" cy="908.5" r="2.9"/><circle cx="1713.5" cy="910.0" r="2.9"/><circle cx="1722.2" cy="912.8" r="2.9"/><circle cx="1730.9" cy="911.5" r="2.9"/><circle cx="1709.2" cy="914.7" r="2.9"/><circle cx="1717.9" cy="916.0" r="2.9"/><circle cx="1726.4" cy="915.3" r="2.9"/><circle cx="1735.1" cy="916.0" r="2.9"/><circle cx="1704.8" cy="918.5" r="2.9"/><circle cx="1739.6" cy="917.5" r="2.9"/><circle cx="1713.5" cy="921.7" r="2.9"/><circle cx="1722.2" cy="921.0" r="2.9"/><circle cx="1730.9" cy="921.7" r="2.9"/><circle cx="1709.2" cy="927.0" r="2.9"/><circle cx="1717.9" cy="927.0" r="2.9"/><circle cx="1726.4" cy="927.4" r="2.9"/><circle cx="1735.1" cy="926.6" r="2.9"/><circle cx="1704.8" cy="928.1" r="2.9"/><circle cx="1739.6" cy="928.5" r="2.9"/><circle cx="1713.5" cy="931.7" r="2.9"/><circle cx="1722.2" cy="932.3" r="2.9"/><circle cx="1730.9" cy="931.9" r="2.9"/><circle cx="1704.8" cy="938.0" r="2.9"/><circle cx="1713.5" cy="939.1" r="2.9"/><circle cx="1730.9" cy="938.2" r="2.9"/><circle cx="1739.6" cy="937.8" r="2.9"/><circle cx="1722.2" cy="942.1" r="2.9"/><circle cx="1709.2" cy="944.2" r="2.9"/><circle cx="1717.9" cy="945.9" r="2.9"/><circle cx="1726.4" cy="947.4" r="2.9"/><circle cx="1735.1" cy="945.5" r="2.9"/><circle cx="1704.8" cy="947.8" r="2.9"/><circle cx="1713.5" cy="949.7" r="2.9"/><circle cx="1730.9" cy="950.1" r="2.9"/><circle cx="1739.6" cy="949.3" r="2.9"/><circle cx="1722.2" cy="952.9" r="2.9"/><circle cx="1704.8" cy="959.3" r="2.9"/><circle cx="1730.9" cy="960.7" r="2.9"/><circle cx="1713.5" cy="965.6" r="2.9"/><circle cx="1722.2" cy="966.7" r="2.9"/><circle cx="1730.9" cy="977.1" r="2.9"/><circle cx="1722.2" cy="982.6" r="2.9"/><circle cx="1713.5" cy="996.8" r="2.9"/><circle cx="1722.2" cy="1002.1" r="2.9"/><circle cx="1722.2" cy="1026.7" r="2.9"/><circle cx="1814.0" cy="860.4" r="2.9"/><circle cx="1805.3" cy="879.3" r="2.9"/><circle cx="1814.0" cy="881.4" r="2.9"/><circle cx="1800.9" cy="886.7" r="2.9"/><circle cx="1809.6" cy="889.6" r="2.9"/><circle cx="1818.3" cy="890.1" r="2.9"/><circle cx="1827.0" cy="888.8" r="2.9"/><circle cx="1796.6" cy="890.7" r="2.9"/><circle cx="1805.3" cy="890.7" r="2.9"/><circle cx="1831.4" cy="890.7" r="2.9"/><circle cx="1794.5" cy="895.2" r="2.9"/><circle cx="1800.9" cy="896.7" r="2.9"/><circle cx="1809.6" cy="896.7" r="2.9"/><circle cx="1818.3" cy="896.0" r="2.9"/><circle cx="1827.0" cy="896.7" r="2.9"/><circle cx="1796.6" cy="900.9" r="2.9"/><circle cx="1805.3" cy="900.9" r="2.9"/><circle cx="1814.0" cy="900.1" r="2.9"/><circle cx="1822.7" cy="900.9" r="2.9"/><circle cx="1831.4" cy="899.0" r="2.9"/><circle cx="1800.9" cy="906.2" r="2.9"/><circle cx="1809.6" cy="907.7" r="2.9"/><circle cx="1818.3" cy="906.2" r="2.9"/><circle cx="1827.0" cy="907.1" r="2.9"/><circle cx="1796.6" cy="909.6" r="2.9"/><circle cx="1831.4" cy="909.6" r="2.9"/><circle cx="1805.3" cy="911.9" r="2.9"/><circle cx="1814.0" cy="912.8" r="2.9"/><circle cx="1822.7" cy="911.9" r="2.9"/><circle cx="1800.9" cy="916.6" r="2.9"/><circle cx="1809.6" cy="916.6" r="2.9"/><circle cx="1818.3" cy="916.6" r="2.9"/><circle cx="1827.0" cy="916.0" r="2.9"/><circle cx="1796.6" cy="921.3" r="2.9"/><circle cx="1805.3" cy="921.0" r="2.9"/><circle cx="1814.0" cy="921.7" r="2.9"/><circle cx="1822.7" cy="921.0" r="2.9"/><circle cx="1831.4" cy="920.2" r="2.9"/><circle cx="1796.6" cy="924.7" r="2.9"/><circle cx="1818.3" cy="923.2" r="2.9"/><circle cx="1805.3" cy="928.5" r="2.9"/><circle cx="1831.4" cy="928.5" r="2.9"/><circle cx="1800.9" cy="932.7" r="2.9"/><circle cx="1814.0" cy="931.9" r="2.9"/><circle cx="1822.7" cy="931.2" r="2.9"/><circle cx="1809.6" cy="935.5" r="2.9"/><circle cx="1818.3" cy="934.6" r="2.9"/><circle cx="1796.6" cy="937.2" r="2.9"/><circle cx="1831.4" cy="936.1" r="2.9"/><circle cx="1805.3" cy="939.1" r="2.9"/><circle cx="1814.0" cy="941.2" r="2.9"/><circle cx="1822.7" cy="938.4" r="2.9"/><circle cx="1805.3" cy="943.7" r="2.9"/><circle cx="1822.7" cy="943.7" r="2.9"/><circle cx="1831.4" cy="942.7" r="2.9"/><circle cx="1805.3" cy="950.3" r="2.9"/><circle cx="1814.0" cy="949.7" r="2.9"/><circle cx="1822.7" cy="949.7" r="2.9"/><circle cx="1814.0" cy="958.8" r="2.9"/><circle cx="1822.7" cy="964.6" r="2.9"/><circle cx="1814.0" cy="968.8" r="2.9"/><circle cx="1805.3" cy="985.8" r="2.9"/><circle cx="1814.0" cy="986.8" r="2.9"/><circle cx="1822.7" cy="984.5" r="2.9"/><circle cx="1814.0" cy="1002.9" r="2.9"/><circle cx="1905.5" cy="909.2" r="2.9"/><circle cx="1905.5" cy="921.7" r="2.9"/><circle cx="1901.3" cy="938.4" r="2.9"/><circle cx="1922.9" cy="938.4" r="2.9"/><circle cx="1888.3" cy="942.3" r="2.9"/><circle cx="1914.2" cy="942.5" r="2.9"/><circle cx="1897.0" cy="945.4" r="2.9"/><circle cx="1905.5" cy="946.9" r="2.9"/><circle cx="1910.0" cy="948.4" r="2.9"/><circle cx="1888.3" cy="949.9" r="2.9"/><circle cx="1901.3" cy="949.3" r="2.9"/><circle cx="1918.6" cy="948.9" r="2.9"/><circle cx="1897.0" cy="952.9" r="2.9"/><circle cx="1914.2" cy="954.4" r="2.9"/><circle cx="1922.9" cy="951.8" r="2.9"/><circle cx="1905.5" cy="955.8" r="2.9"/><circle cx="1897.0" cy="971.8" r="2.9"/><circle cx="1905.5" cy="972.4" r="2.9"/><circle cx="1897.0" cy="976.2" r="2.9"/><circle cx="1905.5" cy="981.3" r="2.9"/><circle cx="1914.2" cy="980.0" r="2.9"/><circle cx="1901.3" cy="983.2" r="2.9"/><circle cx="1922.9" cy="983.9" r="2.9"/><circle cx="1888.3" cy="986.0" r="2.9"/><circle cx="1914.2" cy="987.0" r="2.9"/><circle cx="1897.0" cy="990.4" r="2.9"/><circle cx="1905.5" cy="991.3" r="2.9"/><circle cx="1888.3" cy="992.4" r="2.9"/><circle cx="1922.9" cy="996.6" r="2.9"/><circle cx="1897.0" cy="999.8" r="2.9"/><circle cx="1905.5" cy="1000.8" r="2.9"/><circle cx="1914.2" cy="1000.4" r="2.9"/><circle cx="1922.9" cy="1001.3" r="2.9"/><circle cx="1888.3" cy="1004.9" r="2.9"/><circle cx="1897.0" cy="1007.6" r="2.9"/><circle cx="1914.2" cy="1006.8" r="2.9"/><circle cx="1905.5" cy="1009.7" r="2.9"/><circle cx="1905.5" cy="1018.6" r="2.9"/><circle cx="1888.3" cy="1020.6" r="2.9"/><circle cx="1922.9" cy="1019.9" r="2.9"/><circle cx="1897.0" cy="1023.8" r="2.9"/><circle cx="1914.2" cy="1022.5" r="2.9"/><circle cx="1905.5" cy="1028.0" r="2.9"/><circle cx="1901.3" cy="1034.8" r="2.9"/><circle cx="1910.0" cy="1035.6" r="2.9"/><circle cx="1888.3" cy="1037.5" r="2.9"/><circle cx="1922.9" cy="1037.8" r="2.9"/><circle cx="1897.0" cy="1042.2" r="2.9"/><circle cx="1905.5" cy="1043.5" r="2.9"/><circle cx="1914.2" cy="1042.4" r="2.9"/><circle cx="1897.0" cy="1058.8" r="2.9"/><circle cx="1914.2" cy="1057.9" r="2.9"/><circle cx="1905.5" cy="1066.0" r="2.9"/><circle cx="1897.0" cy="1071.1" r="2.9"/><circle cx="1914.2" cy="1072.3" r="2.9"/><circle cx="1905.5" cy="1077.0" r="2.9"/><circle cx="1897.0" cy="1079.8" r="2.9"/><circle cx="1905.5" cy="1085.9" r="2.9"/><circle cx="1914.2" cy="1102.3" r="2.9"/><circle cx="1905.5" cy="1108.6" r="2.9"/><circle cx="1997.6" cy="914.7" r="2.9"/><circle cx="1997.6" cy="924.4" r="2.9"/><circle cx="1988.9" cy="934.2" r="2.9"/><circle cx="1997.6" cy="941.4" r="2.9"/><circle cx="2014.8" cy="955.4" r="2.9"/><circle cx="1988.9" cy="957.6" r="2.9"/><circle cx="2006.1" cy="958.6" r="2.9"/><circle cx="1997.6" cy="962.6" r="2.9"/><circle cx="2006.1" cy="980.2" r="2.9"/><circle cx="1988.9" cy="982.6" r="2.9"/><circle cx="1997.6" cy="984.1" r="2.9"/><circle cx="1997.6" cy="997.7" r="2.9"/><circle cx="2006.1" cy="1002.9" r="2.9"/><circle cx="1988.9" cy="1006.8" r="2.9"/><circle cx="1997.6" cy="1006.8" r="2.9"/><circle cx="1988.9" cy="1012.3" r="2.9"/><circle cx="2006.1" cy="1013.1" r="2.9"/><circle cx="1997.6" cy="1018.6" r="2.9"/><circle cx="1997.6" cy="1034.8" r="2.9"/><circle cx="1980.2" cy="1037.5" r="2.9"/><circle cx="2002.0" cy="1036.7" r="2.9"/><circle cx="2014.8" cy="1039.0" r="2.9"/><circle cx="1988.9" cy="1041.9" r="2.9"/><circle cx="2006.1" cy="1041.9" r="2.9"/><circle cx="1997.6" cy="1044.2" r="2.9"/><circle cx="1984.6" cy="1047.2" r="2.9"/><circle cx="1993.3" cy="1048.5" r="2.9"/><circle cx="2002.0" cy="1047.9" r="2.9"/><circle cx="2010.5" cy="1047.0" r="2.9"/><circle cx="1980.2" cy="1049.8" r="2.9"/><circle cx="2014.8" cy="1049.1" r="2.9"/><circle cx="1988.9" cy="1053.2" r="2.9"/><circle cx="1997.6" cy="1053.6" r="2.9"/><circle cx="2006.1" cy="1053.6" r="2.9"/><circle cx="1993.3" cy="1056.3" r="2.9"/><circle cx="2010.5" cy="1055.5" r="2.9"/><circle cx="1980.2" cy="1058.5" r="2.9"/><circle cx="2002.0" cy="1058.0" r="2.9"/><circle cx="1988.9" cy="1063.6" r="2.9"/><circle cx="1997.6" cy="1064.2" r="2.9"/><circle cx="2006.1" cy="1063.6" r="2.9"/><circle cx="2014.8" cy="1063.1" r="2.9"/><circle cx="1993.3" cy="1066.1" r="2.9"/><circle cx="2002.0" cy="1066.1" r="2.9"/><circle cx="1980.2" cy="1068.0" r="2.9"/><circle cx="2014.8" cy="1067.0" r="2.9"/><circle cx="1988.9" cy="1070.3" r="2.9"/><circle cx="2006.1" cy="1068.7" r="2.9"/><circle cx="1997.6" cy="1073.7" r="2.9"/><circle cx="1988.9" cy="1077.8" r="2.9"/><circle cx="2006.1" cy="1077.8" r="2.9"/><circle cx="2014.8" cy="1077.5" r="2.9"/><circle cx="1997.6" cy="1082.4" r="2.9"/><circle cx="1980.2" cy="1089.2" r="2.9"/><circle cx="2014.8" cy="1088.6" r="2.9"/><circle cx="1988.9" cy="1093.5" r="2.9"/><circle cx="2006.1" cy="1092.2" r="2.9"/><circle cx="1997.6" cy="1095.4" r="2.9"/><circle cx="1988.9" cy="1111.9" r="2.9"/><circle cx="2006.1" cy="1112.4" r="2.9"/><circle cx="1997.6" cy="1117.9" r="2.9"/></g>
<line x1="1675.5" y1="857.4" x2="1675.5" y2="1147.4" stroke="#000" stroke-width="3"/>
<line x1="1666.6" y1="1145.9" x2="2045.8" y2="1145.9" stroke="#000" stroke-width="3"/>
<line x1="1666.6" y1="1145.9" x2="1675.5" y2="1145.9" stroke="#000" stroke-width="3"/>
<text x="1664.5" y="1153.2" font-size="20.5" text-anchor="end" fill="#000">0</text>
<line x1="1666.6" y1="1050.232" x2="1675.5" y2="1050.232" stroke="#000" stroke-width="3"/>
<text x="1664.5" y="1057.532" font-size="20.5" text-anchor="end" fill="#000">40</text>
<line x1="1666.6" y1="954.5640000000001" x2="1675.5" y2="954.5640000000001" stroke="#000" stroke-width="3"/>
<text x="1664.5" y="961.864" font-size="20.5" text-anchor="end" fill="#000">80</text>
<line x1="1666.6" y1="858.8960000000001" x2="1675.5" y2="858.8960000000001" stroke="#000" stroke-width="3"/>
<text x="1664.5" y="866.196" font-size="20.5" text-anchor="end" fill="#000">120</text>
<line x1="1720.9" y1="1145.9" x2="1720.9" y2="1155" stroke="#000" stroke-width="3"/>
<line x1="1813.6" y1="1145.9" x2="1813.6" y2="1155" stroke="#000" stroke-width="3"/>
<line x1="1905.5" y1="1145.9" x2="1905.5" y2="1155" stroke="#000" stroke-width="3"/>
<line x1="1997.6" y1="1145.9" x2="1997.6" y2="1155" stroke="#000" stroke-width="3"/>
<text x="1722.9" y="1185.3" font-size="23.6" text-anchor="middle" fill="#000">AHL</text>
<text x="1809.5" y="1185.3" font-size="23.6" text-anchor="middle" fill="#000">AHL</text>
<text x="1907.8" y="1185.3" font-size="23.6" text-anchor="middle" fill="#000">ATP</text>
<text x="1999.2" y="1185.3" font-size="23.6" text-anchor="middle" fill="#000">ATP</text>
<text x="1613.6" y="1003" font-size="23.6" text-anchor="middle" fill="#000" transform="rotate(-90 1613.6 1003)">Percent of [Ca<tspan font-size="17.5" dy="-9">2+</tspan><tspan dy="9">]</tspan></text>
<line x1="1715.4" y1="791.6" x2="1990.6" y2="791.6" stroke="#231f20" stroke-width="3.0"/>
<text x="1854" y="794.9" font-size="37.3" text-anchor="middle" fill="#000" font-weight="normal" stroke="#000" stroke-width="0.55">***</text>
<line x1="1715.4" y1="829.7" x2="1902" y2="829.7" stroke="#231f20" stroke-width="3.0"/>
<text x="1806" y="832.9" font-size="37.3" text-anchor="middle" fill="#000" font-weight="normal" stroke="#000" stroke-width="0.55">***</text>
<line x1="1903.6" y1="877.3" x2="1995.7" y2="877.3" stroke="#231f20" stroke-width="3.0"/>
<text x="1949.4" y="882.4" font-size="37.3" text-anchor="middle" fill="#000" font-weight="normal" stroke="#000" stroke-width="0.55">***</text>
</svg></body></html>
